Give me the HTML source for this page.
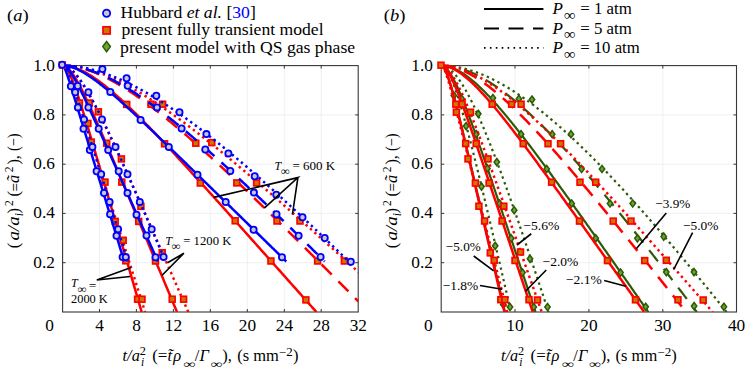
<!DOCTYPE html>
<html><head><meta charset="utf-8"><style>
html,body{margin:0;padding:0;background:#fff;width:745px;height:380px;overflow:hidden}
svg{display:block}
text{font-family:"Liberation Serif",serif;fill:#000}
</style></head><body>
<svg width="745" height="380" viewBox="0 0 745 380">
<rect width="745" height="380" fill="#fff"/>
<defs><clipPath id="ca"><rect x="62.6" y="59.6" width="295.6" height="252.4"/></clipPath><clipPath id="cb"><rect x="441.2" y="59.6" width="295.3" height="252.4"/></clipPath></defs>
<line x1="99.5" y1="65.6" x2="99.5" y2="312.0" stroke="#ececec" stroke-width="0.8"/>
<line x1="136.4" y1="65.6" x2="136.4" y2="312.0" stroke="#ececec" stroke-width="0.8"/>
<line x1="173.4" y1="65.6" x2="173.4" y2="312.0" stroke="#ececec" stroke-width="0.8"/>
<line x1="210.3" y1="65.6" x2="210.3" y2="312.0" stroke="#ececec" stroke-width="0.8"/>
<line x1="247.3" y1="65.6" x2="247.3" y2="312.0" stroke="#ececec" stroke-width="0.8"/>
<line x1="284.3" y1="65.6" x2="284.3" y2="312.0" stroke="#ececec" stroke-width="0.8"/>
<line x1="321.2" y1="65.6" x2="321.2" y2="312.0" stroke="#ececec" stroke-width="0.8"/>
<line x1="62.6" y1="262.7" x2="358.2" y2="262.7" stroke="#ececec" stroke-width="0.8"/>
<line x1="62.6" y1="213.4" x2="358.2" y2="213.4" stroke="#ececec" stroke-width="0.8"/>
<line x1="62.6" y1="164.2" x2="358.2" y2="164.2" stroke="#ececec" stroke-width="0.8"/>
<line x1="62.6" y1="114.9" x2="358.2" y2="114.9" stroke="#ececec" stroke-width="0.8"/>
<line x1="515.0" y1="65.6" x2="515.0" y2="312.0" stroke="#ececec" stroke-width="0.8"/>
<line x1="588.9" y1="65.6" x2="588.9" y2="312.0" stroke="#ececec" stroke-width="0.8"/>
<line x1="662.8" y1="65.6" x2="662.8" y2="312.0" stroke="#ececec" stroke-width="0.8"/>
<line x1="441.2" y1="262.7" x2="736.5" y2="262.7" stroke="#ececec" stroke-width="0.8"/>
<line x1="441.2" y1="213.4" x2="736.5" y2="213.4" stroke="#ececec" stroke-width="0.8"/>
<line x1="441.2" y1="164.2" x2="736.5" y2="164.2" stroke="#ececec" stroke-width="0.8"/>
<line x1="441.2" y1="114.9" x2="736.5" y2="114.9" stroke="#ececec" stroke-width="0.8"/>
<rect x="62.6" y="65.6" width="295.59999999999997" height="246.4" fill="none" stroke="#383838" stroke-width="1.1"/>
<line x1="99.5" y1="312.0" x2="99.5" y2="309.0" stroke="#383838" stroke-width="1"/>
<line x1="99.5" y1="65.6" x2="99.5" y2="68.6" stroke="#383838" stroke-width="1"/>
<line x1="136.4" y1="312.0" x2="136.4" y2="309.0" stroke="#383838" stroke-width="1"/>
<line x1="136.4" y1="65.6" x2="136.4" y2="68.6" stroke="#383838" stroke-width="1"/>
<line x1="173.4" y1="312.0" x2="173.4" y2="309.0" stroke="#383838" stroke-width="1"/>
<line x1="173.4" y1="65.6" x2="173.4" y2="68.6" stroke="#383838" stroke-width="1"/>
<line x1="210.3" y1="312.0" x2="210.3" y2="309.0" stroke="#383838" stroke-width="1"/>
<line x1="210.3" y1="65.6" x2="210.3" y2="68.6" stroke="#383838" stroke-width="1"/>
<line x1="247.3" y1="312.0" x2="247.3" y2="309.0" stroke="#383838" stroke-width="1"/>
<line x1="247.3" y1="65.6" x2="247.3" y2="68.6" stroke="#383838" stroke-width="1"/>
<line x1="284.3" y1="312.0" x2="284.3" y2="309.0" stroke="#383838" stroke-width="1"/>
<line x1="284.3" y1="65.6" x2="284.3" y2="68.6" stroke="#383838" stroke-width="1"/>
<line x1="321.2" y1="312.0" x2="321.2" y2="309.0" stroke="#383838" stroke-width="1"/>
<line x1="321.2" y1="65.6" x2="321.2" y2="68.6" stroke="#383838" stroke-width="1"/>
<line x1="62.6" y1="262.7" x2="65.6" y2="262.7" stroke="#383838" stroke-width="1"/>
<line x1="358.2" y1="262.7" x2="355.2" y2="262.7" stroke="#383838" stroke-width="1"/>
<line x1="62.6" y1="213.4" x2="65.6" y2="213.4" stroke="#383838" stroke-width="1"/>
<line x1="358.2" y1="213.4" x2="355.2" y2="213.4" stroke="#383838" stroke-width="1"/>
<line x1="62.6" y1="164.2" x2="65.6" y2="164.2" stroke="#383838" stroke-width="1"/>
<line x1="358.2" y1="164.2" x2="355.2" y2="164.2" stroke="#383838" stroke-width="1"/>
<line x1="62.6" y1="114.9" x2="65.6" y2="114.9" stroke="#383838" stroke-width="1"/>
<line x1="358.2" y1="114.9" x2="355.2" y2="114.9" stroke="#383838" stroke-width="1"/>
<rect x="441.2" y="65.6" width="295.3" height="246.4" fill="none" stroke="#383838" stroke-width="1.1"/>
<line x1="515.0" y1="312.0" x2="515.0" y2="309.0" stroke="#383838" stroke-width="1"/>
<line x1="515.0" y1="65.6" x2="515.0" y2="68.6" stroke="#383838" stroke-width="1"/>
<line x1="588.9" y1="312.0" x2="588.9" y2="309.0" stroke="#383838" stroke-width="1"/>
<line x1="588.9" y1="65.6" x2="588.9" y2="68.6" stroke="#383838" stroke-width="1"/>
<line x1="662.8" y1="312.0" x2="662.8" y2="309.0" stroke="#383838" stroke-width="1"/>
<line x1="662.8" y1="65.6" x2="662.8" y2="68.6" stroke="#383838" stroke-width="1"/>
<line x1="441.2" y1="262.7" x2="444.2" y2="262.7" stroke="#383838" stroke-width="1"/>
<line x1="736.5" y1="262.7" x2="733.5" y2="262.7" stroke="#383838" stroke-width="1"/>
<line x1="441.2" y1="213.4" x2="444.2" y2="213.4" stroke="#383838" stroke-width="1"/>
<line x1="736.5" y1="213.4" x2="733.5" y2="213.4" stroke="#383838" stroke-width="1"/>
<line x1="441.2" y1="164.2" x2="444.2" y2="164.2" stroke="#383838" stroke-width="1"/>
<line x1="736.5" y1="164.2" x2="733.5" y2="164.2" stroke="#383838" stroke-width="1"/>
<line x1="441.2" y1="114.9" x2="444.2" y2="114.9" stroke="#383838" stroke-width="1"/>
<line x1="736.5" y1="114.9" x2="733.5" y2="114.9" stroke="#383838" stroke-width="1"/>
<g clip-path="url(#ca)">
<path d="M62.50,65.60 L63.68,65.89 L64.86,66.72 L66.04,68.00 L67.23,69.68 L68.41,71.70 L69.59,74.00 L70.77,76.55 L71.95,79.32 L73.13,82.28 L74.31,85.39 L75.49,88.64 L76.68,92.00 L77.86,95.47 L79.04,99.02 L80.22,102.64 L81.40,106.33 L82.58,110.08 L83.76,113.87 L84.95,117.70 L86.13,121.57 L87.31,125.46 L88.49,129.39 L89.67,133.33 L90.85,137.30 L92.03,141.28 L93.21,145.27 L94.40,149.28 L95.58,153.29 L96.76,157.32 L97.94,161.35 L99.12,165.39 L100.30,169.44 L101.48,173.49 L102.67,177.54 L103.85,181.60 L105.03,185.66 L106.21,189.72 L107.39,193.79 L108.57,197.86 L109.75,201.93 L110.93,206.00 L112.12,210.07 L113.30,214.14 L114.48,218.22 L115.66,222.29 L116.84,226.37 L118.02,230.44 L119.20,234.52 L120.39,238.60 L121.57,242.67 L122.75,246.75 L123.93,250.83 L125.11,254.91 L126.29,258.99 L127.47,263.07 L128.66,267.15 L129.84,271.22 L131.02,275.30 L132.20,279.38 L133.38,283.46 L134.56,287.54 L135.74,291.62 L136.92,295.70 L138.11,299.78 L139.29,303.86 L140.47,307.94 L141.65,312.02" fill="none" stroke="#ff0000" stroke-width="2.5" stroke-linejoin="round"/>
<path d="M62.50,65.60 L63.68,66.02 L64.86,67.16 L66.04,68.86 L67.22,71.01 L68.40,73.50 L69.58,76.26 L70.76,79.23 L71.94,82.37 L73.12,85.64 L74.30,89.01 L75.48,92.46 L76.66,95.97 L77.84,99.53 L79.02,103.13 L80.20,106.76 L81.38,110.42 L82.56,114.09 L83.74,117.78 L84.92,121.47 L86.10,125.18 L87.28,128.89 L88.46,132.61 L89.64,136.34 L90.82,140.06 L92.00,143.79 L93.18,147.52 L94.36,151.26 L95.54,154.99 L96.72,158.73 L97.90,162.46 L99.08,166.20 L100.26,169.94 L101.44,173.67 L102.62,177.41 L103.80,181.15 L104.98,184.89 L106.16,188.63 L107.34,192.36 L108.52,196.10 L109.70,199.84 L110.88,203.58 L112.06,207.32 L113.24,211.06 L114.42,214.80 L115.60,218.53 L116.78,222.27 L117.96,226.01 L119.14,229.75 L120.32,233.49 L121.50,237.23 L122.68,240.97 L123.86,244.71 L125.04,248.44 L126.22,252.18 L127.40,255.92 L128.58,259.66 L129.76,263.40 L130.94,267.14 L132.12,270.88 L133.30,274.62 L134.48,278.35 L135.66,282.09 L136.85,285.83 L138.03,289.57 L139.21,293.31 L140.39,297.05 L141.57,300.79 L142.75,304.53 L143.93,308.27 L145.11,312.00" fill="none" stroke="#ff0000" stroke-width="2.5" stroke-dasharray="2.4 3.5" stroke-linejoin="round"/>
<path d="M62.50,65.60 L63.67,65.74 L64.84,66.14 L66.01,66.78 L67.17,67.64 L68.34,68.68 L69.51,69.90 L70.68,71.27 L71.85,72.79 L73.02,74.43 L74.19,76.18 L75.36,78.04 L76.52,79.99 L77.69,82.02 L78.86,84.12 L80.03,86.30 L81.20,88.53 L82.37,90.82 L83.54,93.16 L84.70,95.55 L85.87,97.97 L87.04,100.43 L88.21,102.92 L89.38,105.44 L90.55,107.99 L91.72,110.56 L92.89,113.15 L94.05,115.76 L95.22,118.39 L96.39,121.04 L97.56,123.70 L98.73,126.37 L99.90,129.05 L101.07,131.74 L102.23,134.45 L103.40,137.16 L104.57,139.88 L105.74,142.60 L106.91,145.33 L108.08,148.07 L109.25,150.81 L110.42,153.56 L111.58,156.31 L112.75,159.06 L113.92,161.82 L115.09,164.58 L116.26,167.34 L117.43,170.10 L118.60,172.87 L119.76,175.64 L120.93,178.41 L122.10,181.18 L123.27,183.95 L124.44,186.73 L125.61,189.51 L126.78,192.28 L127.95,195.06 L129.11,197.84 L130.28,200.62 L131.45,203.40 L132.62,206.18 L133.79,208.96 L134.96,211.74 L136.13,214.52 L137.29,217.31 L138.46,220.09 L139.63,222.87 L140.80,225.66 L141.97,228.44 L143.14,231.23 L144.31,234.01 L145.48,236.79 L146.64,239.58 L147.81,242.36 L148.98,245.15 L150.15,247.93 L151.32,250.72 L152.49,253.50 L153.66,256.29 L154.83,259.08 L155.99,261.86 L157.16,264.65 L158.33,267.43 L159.50,270.22 L160.67,273.00 L161.84,275.79 L163.01,278.58 L164.17,281.36 L165.34,284.15 L166.51,286.93 L167.68,289.72 L168.85,292.51 L170.02,295.29 L171.19,298.08 L172.36,300.86 L173.52,303.65 L174.69,306.44 L175.86,309.22 L177.03,312.01" fill="none" stroke="#ff0000" stroke-width="2.5" stroke-linejoin="round"/>
<path d="M62.50,65.60 L63.68,65.69 L64.85,65.93 L66.03,66.34 L67.20,66.88 L68.38,67.57 L69.55,68.37 L70.73,69.30 L71.90,70.34 L73.08,71.48 L74.26,72.72 L75.43,74.05 L76.61,75.46 L77.78,76.96 L78.96,78.53 L80.13,80.17 L81.31,81.88 L82.48,83.65 L83.66,85.47 L84.84,87.35 L86.01,89.29 L87.19,91.27 L88.36,93.29 L89.54,95.36 L90.71,97.46 L91.89,99.60 L93.06,101.78 L94.24,103.99 L95.42,106.23 L96.59,108.50 L97.77,110.79 L98.94,113.11 L100.12,115.45 L101.29,117.81 L102.47,120.20 L103.64,122.60 L104.82,125.02 L106.00,127.46 L107.17,129.92 L108.35,132.38 L109.52,134.87 L110.70,137.36 L111.87,139.87 L113.05,142.39 L114.22,144.92 L115.40,147.46 L116.58,150.01 L117.75,152.57 L118.93,155.13 L120.10,157.71 L121.28,160.29 L122.45,162.88 L123.63,165.47 L124.80,168.07 L125.98,170.68 L127.16,173.29 L128.33,175.91 L129.51,178.53 L130.68,181.15 L131.86,183.78 L133.03,186.41 L134.21,189.05 L135.38,191.69 L136.56,194.33 L137.74,196.98 L138.91,199.63 L140.09,202.28 L141.26,204.93 L142.44,207.59 L143.61,210.25 L144.79,212.91 L145.96,215.57 L147.14,218.23 L148.32,220.89 L149.49,223.56 L150.67,226.23 L151.84,228.90 L153.02,231.57 L154.19,234.24 L155.37,236.91 L156.54,239.59 L157.72,242.26 L158.90,244.94 L160.07,247.61 L161.25,250.29 L162.42,252.97 L163.60,255.65 L164.77,258.33 L165.95,261.01 L167.12,263.69 L168.30,266.37 L169.48,269.05 L170.65,271.73 L171.83,274.42 L173.00,277.10 L174.18,279.78 L175.35,282.46 L176.53,285.15 L177.70,287.83 L178.88,290.52 L180.06,293.20 L181.23,295.89 L182.41,298.57 L183.58,301.26 L184.76,303.94 L185.93,306.63 L187.11,309.32 L188.28,312.00" fill="none" stroke="#ff0000" stroke-width="2.5" stroke-dasharray="2.4 3.5" stroke-linejoin="round"/>
<path d="M62.50,65.60 L63.66,65.62 L64.83,65.69 L65.99,65.79 L67.16,65.94 L68.32,66.12 L69.49,66.34 L70.65,66.59 L71.82,66.88 L72.98,67.21 L74.15,67.57 L75.31,67.95 L76.48,68.37 L77.64,68.82 L78.81,69.30 L79.97,69.80 L81.14,70.33 L82.30,70.88 L83.47,71.46 L84.63,72.07 L85.79,72.70 L86.96,73.35 L88.12,74.02 L89.29,74.71 L90.45,75.42 L91.62,76.16 L92.78,76.91 L93.95,77.68 L95.11,78.47 L96.28,79.27 L97.44,80.09 L98.61,80.93 L99.77,81.78 L100.94,82.65 L102.10,83.53 L103.27,84.43 L104.43,85.34 L105.60,86.26 L106.76,87.20 L107.93,88.15 L109.09,89.11 L110.25,90.08 L111.42,91.06 L112.58,92.06 L113.75,93.06 L114.91,94.08 L116.08,95.10 L117.24,96.13 L118.41,97.18 L119.57,98.23 L120.74,99.29 L121.90,100.35 L123.07,101.43 L124.23,102.51 L125.40,103.60 L126.56,104.70 L127.73,105.81 L128.89,106.92 L130.06,108.04 L131.22,109.16 L132.38,110.29 L133.55,111.43 L134.71,112.57 L135.88,113.72 L137.04,114.87 L138.21,116.03 L139.37,117.20 L140.54,118.36 L141.70,119.54 L142.87,120.71 L144.03,121.90 L145.20,123.08 L146.36,124.27 L147.53,125.47 L148.69,126.66 L149.86,127.87 L151.02,129.07 L152.19,130.28 L153.35,131.49 L154.52,132.71 L155.68,133.92 L156.84,135.14 L158.01,136.37 L159.17,137.60 L160.34,138.83 L161.50,140.06 L162.67,141.29 L163.83,142.53 L165.00,143.77 L166.16,145.01 L167.33,146.26 L168.49,147.50 L169.66,148.75 L170.82,150.00 L171.99,151.25 L173.15,152.51 L174.32,153.76 L175.48,155.02 L176.65,156.28 L177.81,157.54 L178.97,158.80 L180.14,160.07 L181.30,161.33 L182.47,162.60 L183.63,163.87 L184.80,165.14 L185.96,166.41 L187.13,167.68 L188.29,168.96 L189.46,170.23 L190.62,171.51 L191.79,172.79 L192.95,174.07 L194.12,175.35 L195.28,176.63 L196.45,177.91 L197.61,179.19 L198.78,180.47 L199.94,181.76 L201.11,183.04 L202.27,184.33 L203.43,185.61 L204.60,186.90 L205.76,188.19 L206.93,189.48 L208.09,190.77 L209.26,192.06 L210.42,193.35 L211.59,194.64 L212.75,195.93 L213.92,197.22 L215.08,198.52 L216.25,199.81 L217.41,201.10 L218.58,202.40 L219.74,203.69 L220.91,204.99 L222.07,206.29 L223.24,207.58 L224.40,208.88 L225.56,210.18 L226.73,211.48 L227.89,212.77 L229.06,214.07 L230.22,215.37 L231.39,216.67 L232.55,217.97 L233.72,219.27 L234.88,220.57 L236.05,221.87 L237.21,223.17 L238.38,224.47 L239.54,225.78 L240.71,227.08 L241.87,228.38 L243.04,229.68 L244.20,230.98 L245.37,232.29 L246.53,233.59 L247.70,234.89 L248.86,236.20 L250.02,237.50 L251.19,238.80 L252.35,240.11 L253.52,241.41 L254.68,242.72 L255.85,244.02 L257.01,245.33 L258.18,246.63 L259.34,247.94 L260.51,249.24 L261.67,250.55 L262.84,251.85 L264.00,253.16 L265.17,254.46 L266.33,255.77 L267.50,257.08 L268.66,258.38 L269.83,259.69 L270.99,261.00 L272.15,262.30 L273.32,263.61 L274.48,264.92 L275.65,266.22 L276.81,267.53 L277.98,268.84 L279.14,270.14 L280.31,271.45 L281.47,272.76 L282.64,274.07 L283.80,275.37 L284.97,276.68 L286.13,277.99 L287.30,279.30 L288.46,280.60 L289.63,281.91 L290.79,283.22 L291.96,284.53 L293.12,285.84 L294.28,287.14 L295.45,288.45 L296.61,289.76 L297.78,291.07 L298.94,292.38 L300.11,293.68 L301.27,294.99 L302.44,296.30 L303.60,297.61 L304.77,298.92 L305.93,300.23 L307.10,301.54 L308.26,302.84 L309.43,304.15 L310.59,305.46 L311.76,306.77 L312.92,308.08 L314.09,309.39 L315.25,310.70 L316.42,312.01" fill="none" stroke="#ff0000" stroke-width="2.5" stroke-linejoin="round"/>
<path d="M62.50,65.60 L63.66,65.61 L64.82,65.64 L65.98,65.69 L67.14,65.76 L68.30,65.86 L69.46,65.97 L70.62,66.10 L71.78,66.24 L72.95,66.41 L74.11,66.59 L75.27,66.80 L76.43,67.02 L77.59,67.25 L78.75,67.50 L79.91,67.77 L81.07,68.06 L82.23,68.36 L83.39,68.68 L84.55,69.01 L85.71,69.36 L86.87,69.72 L88.03,70.10 L89.19,70.49 L90.35,70.89 L91.52,71.31 L92.68,71.74 L93.84,72.19 L95.00,72.64 L96.16,73.12 L97.32,73.60 L98.48,74.10 L99.64,74.60 L100.80,75.12 L101.96,75.66 L103.12,76.20 L104.28,76.75 L105.44,77.32 L106.60,77.90 L107.76,78.48 L108.92,79.08 L110.08,79.69 L111.25,80.31 L112.41,80.93 L113.57,81.57 L114.73,82.22 L115.89,82.88 L117.05,83.54 L118.21,84.22 L119.37,84.90 L120.53,85.60 L121.69,86.30 L122.85,87.01 L124.01,87.73 L125.17,88.45 L126.33,89.19 L127.49,89.93 L128.65,90.68 L129.81,91.44 L130.98,92.21 L132.14,92.98 L133.30,93.76 L134.46,94.55 L135.62,95.34 L136.78,96.14 L137.94,96.95 L139.10,97.77 L140.26,98.59 L141.42,99.41 L142.58,100.25 L143.74,101.09 L144.90,101.93 L146.06,102.79 L147.22,103.64 L148.38,104.51 L149.55,105.38 L150.71,106.25 L151.87,107.13 L153.03,108.02 L154.19,108.91 L155.35,109.80 L156.51,110.70 L157.67,111.61 L158.83,112.52 L159.99,113.43 L161.15,114.36 L162.31,115.28 L163.47,116.21 L164.63,117.14 L165.79,118.08 L166.95,119.02 L168.11,119.97 L169.28,120.92 L170.44,121.88 L171.60,122.84 L172.76,123.80 L173.92,124.77 L175.08,125.74 L176.24,126.71 L177.40,127.69 L178.56,128.67 L179.72,129.66 L180.88,130.64 L182.04,131.64 L183.20,132.63 L184.36,133.63 L185.52,134.63 L186.68,135.64 L187.84,136.65 L189.01,137.66 L190.17,138.67 L191.33,139.69 L192.49,140.71 L193.65,141.73 L194.81,142.76 L195.97,143.79 L197.13,144.82 L198.29,145.85 L199.45,146.89 L200.61,147.93 L201.77,148.97 L202.93,150.02 L204.09,151.06 L205.25,152.11 L206.41,153.16 L207.58,154.22 L208.74,155.27 L209.90,156.33 L211.06,157.39 L212.22,158.46 L213.38,159.52 L214.54,160.59 L215.70,161.66 L216.86,162.73 L218.02,163.80 L219.18,164.87 L220.34,165.95 L221.50,167.03 L222.66,168.11 L223.82,169.19 L224.98,170.28 L226.14,171.36 L227.31,172.45 L228.47,173.54 L229.63,174.63 L230.79,175.72 L231.95,176.81 L233.11,177.91 L234.27,179.01 L235.43,180.11 L236.59,181.21 L237.75,182.31 L238.91,183.41 L240.07,184.51 L241.23,185.62 L242.39,186.73 L243.55,187.84 L244.71,188.95 L245.87,190.06 L247.04,191.17 L248.20,192.28 L249.36,193.40 L250.52,194.51 L251.68,195.63 L252.84,196.75 L254.00,197.87 L255.16,198.99 L256.32,200.11 L257.48,201.23 L258.64,202.35 L259.80,203.48 L260.96,204.60 L262.12,205.73 L263.28,206.86 L264.44,207.99 L265.61,209.12 L266.77,210.25 L267.93,211.38 L269.09,212.51 L270.25,213.64 L271.41,214.78 L272.57,215.91 L273.73,217.05 L274.89,218.19 L276.05,219.32 L277.21,220.46 L278.37,221.60 L279.53,222.74 L280.69,223.88 L281.85,225.02 L283.01,226.16 L284.17,227.31 L285.34,228.45 L286.50,229.59 L287.66,230.74 L288.82,231.88 L289.98,233.03 L291.14,234.18 L292.30,235.32 L293.46,236.47 L294.62,237.62 L295.78,238.77 L296.94,239.92 L298.10,241.07 L299.26,242.22 L300.42,243.37 L301.58,244.52 L302.74,245.67 L303.90,246.83 L305.07,247.98 L306.23,249.14 L307.39,250.29 L308.55,251.44 L309.71,252.60 L310.87,253.76 L312.03,254.91 L313.19,256.07 L314.35,257.23 L315.51,258.38 L316.67,259.54 L317.83,260.70 L318.99,261.86 L320.15,263.02 L321.31,264.18 L322.47,265.34 L323.63,266.50 L324.80,267.66 L325.96,268.82 L327.12,269.98 L328.28,271.15 L329.44,272.31 L330.60,273.47 L331.76,274.63 L332.92,275.80 L334.08,276.96 L335.24,278.13 L336.40,279.29 L337.56,280.45 L338.72,281.62 L339.88,282.79 L341.04,283.95 L342.20,285.12 L343.37,286.28 L344.53,287.45 L345.69,288.62 L346.85,289.78 L348.01,290.95 L349.17,292.12 L350.33,293.29 L351.49,294.45 L352.65,295.62 L353.81,296.79 L354.97,297.96 L356.13,299.13 L357.29,300.30 L358.45,301.47 L359.61,302.64 L360.77,303.81 L361.93,304.98 L363.10,306.15 L364.26,307.32 L365.42,308.49 L366.58,309.66 L367.74,310.83 L368.90,312.00" fill="none" stroke="#ff0000" stroke-width="2.5" stroke-dasharray="14.2 9.5" stroke-linejoin="round"/>
<path d="M62.50,65.60 L63.66,65.61 L64.82,65.63 L65.98,65.67 L67.14,65.73 L68.30,65.80 L69.45,65.89 L70.61,65.99 L71.77,66.11 L72.93,66.25 L74.09,66.39 L75.25,66.55 L76.41,66.73 L77.57,66.92 L78.73,67.12 L79.89,67.34 L81.05,67.57 L82.21,67.81 L83.36,68.07 L84.52,68.34 L85.68,68.62 L86.84,68.91 L88.00,69.21 L89.16,69.53 L90.32,69.86 L91.48,70.20 L92.64,70.55 L93.80,70.91 L94.96,71.29 L96.12,71.67 L97.27,72.07 L98.43,72.47 L99.59,72.89 L100.75,73.31 L101.91,73.75 L103.07,74.19 L104.23,74.65 L105.39,75.11 L106.55,75.59 L107.71,76.07 L108.87,76.56 L110.03,77.07 L111.18,77.58 L112.34,78.09 L113.50,78.62 L114.66,79.16 L115.82,79.70 L116.98,80.25 L118.14,80.82 L119.30,81.38 L120.46,81.96 L121.62,82.54 L122.78,83.14 L123.94,83.73 L125.09,84.34 L126.25,84.95 L127.41,85.58 L128.57,86.20 L129.73,86.84 L130.89,87.48 L132.05,88.13 L133.21,88.78 L134.37,89.44 L135.53,90.11 L136.69,90.78 L137.85,91.46 L139.00,92.15 L140.16,92.84 L141.32,93.54 L142.48,94.24 L143.64,94.95 L144.80,95.67 L145.96,96.39 L147.12,97.11 L148.28,97.84 L149.44,98.58 L150.60,99.32 L151.76,100.07 L152.91,100.82 L154.07,101.58 L155.23,102.34 L156.39,103.11 L157.55,103.88 L158.71,104.65 L159.87,105.43 L161.03,106.22 L162.19,107.01 L163.35,107.80 L164.51,108.60 L165.67,109.40 L166.82,110.21 L167.98,111.02 L169.14,111.84 L170.30,112.66 L171.46,113.48 L172.62,114.31 L173.78,115.14 L174.94,115.97 L176.10,116.81 L177.26,117.65 L178.42,118.50 L179.58,119.35 L180.73,120.20 L181.89,121.05 L183.05,121.91 L184.21,122.78 L185.37,123.64 L186.53,124.51 L187.69,125.38 L188.85,126.26 L190.01,127.14 L191.17,128.02 L192.33,128.90 L193.49,129.79 L194.64,130.68 L195.80,131.57 L196.96,132.47 L198.12,133.37 L199.28,134.27 L200.44,135.17 L201.60,136.08 L202.76,136.99 L203.92,137.90 L205.08,138.81 L206.24,139.73 L207.40,140.65 L208.55,141.57 L209.71,142.50 L210.87,143.42 L212.03,144.35 L213.19,145.28 L214.35,146.21 L215.51,147.15 L216.67,148.09 L217.83,149.03 L218.99,149.97 L220.15,150.91 L221.31,151.86 L222.46,152.80 L223.62,153.75 L224.78,154.71 L225.94,155.66 L227.10,156.61 L228.26,157.57 L229.42,158.53 L230.58,159.49 L231.74,160.45 L232.90,161.42 L234.06,162.38 L235.22,163.35 L236.37,164.32 L237.53,165.29 L238.69,166.26 L239.85,167.24 L241.01,168.21 L242.17,169.19 L243.33,170.17 L244.49,171.15 L245.65,172.13 L246.81,173.11 L247.97,174.10 L249.13,175.08 L250.28,176.07 L251.44,177.06 L252.60,178.05 L253.76,179.04 L254.92,180.03 L256.08,181.03 L257.24,182.02 L258.40,183.02 L259.56,184.02 L260.72,185.01 L261.88,186.01 L263.04,187.02 L264.19,188.02 L265.35,189.02 L266.51,190.03 L267.67,191.03 L268.83,192.04 L269.99,193.04 L271.15,194.05 L272.31,195.06 L273.47,196.07 L274.63,197.08 L275.79,198.10 L276.95,199.11 L278.10,200.13 L279.26,201.14 L280.42,202.16 L281.58,203.17 L282.74,204.19 L283.90,205.21 L285.06,206.23 L286.22,207.25 L287.38,208.27 L288.54,209.30 L289.70,210.32 L290.86,211.34 L292.01,212.37 L293.17,213.39 L294.33,214.42 L295.49,215.45 L296.65,216.47 L297.81,217.50 L298.97,218.53 L300.13,219.56 L301.29,220.59 L302.45,221.62 L303.61,222.66 L304.77,223.69 L305.92,224.72 L307.08,225.75 L308.24,226.79 L309.40,227.82 L310.56,228.86 L311.72,229.90 L312.88,230.93 L314.04,231.97 L315.20,233.01 L316.36,234.05 L317.52,235.09 L318.67,236.13 L319.83,237.17 L320.99,238.21 L322.15,239.25 L323.31,240.29 L324.47,241.33 L325.63,242.38 L326.79,243.42 L327.95,244.46 L329.11,245.51 L330.27,246.55 L331.43,247.60 L332.58,248.64 L333.74,249.69 L334.90,250.74 L336.06,251.78 L337.22,252.83 L338.38,253.88 L339.54,254.93 L340.70,255.98 L341.86,257.03 L343.02,258.08 L344.18,259.12 L345.34,260.18 L346.49,261.23 L347.65,262.28 L348.81,263.33 L349.97,264.38 L351.13,265.43 L352.29,266.48 L353.45,267.54 L354.61,268.59 L355.77,269.64 L356.93,270.70 L358.09,271.75 L359.25,272.81 L360.40,273.86 L361.56,274.92 L362.72,275.97 L363.88,277.03 L365.04,278.08 L366.20,279.14 L367.36,280.20 L368.52,281.25 L369.68,282.31 L370.84,283.37 L372.00,284.43 L373.16,285.48 L374.31,286.54 L375.47,287.60 L376.63,288.66 L377.79,289.72 L378.95,290.78 L380.11,291.84 L381.27,292.90 L382.43,293.96 L383.59,295.02 L384.75,296.08 L385.91,297.14 L387.07,298.20 L388.22,299.26 L389.38,300.32 L390.54,301.38 L391.70,302.44 L392.86,303.51 L394.02,304.57 L395.18,305.63 L396.34,306.69 L397.50,307.76 L398.66,308.82 L399.82,309.88 L400.98,310.94 L402.13,312.01" fill="none" stroke="#ff0000" stroke-width="2.5" stroke-dasharray="2.4 3.5" stroke-linejoin="round"/>
<rect x="76.5" y="100.1" width="5.8" height="5.8" fill="#c87800" stroke="#ff0000" stroke-width="1.7"/>
<rect x="88.4" y="139.2" width="5.8" height="5.8" fill="#c87800" stroke="#ff0000" stroke-width="1.7"/>
<rect x="112.3" y="218.5" width="5.8" height="5.8" fill="#c87800" stroke="#ff0000" stroke-width="1.7"/>
<rect x="122.9" y="257.9" width="5.8" height="5.8" fill="#c87800" stroke="#ff0000" stroke-width="1.7"/>
<rect x="134.7" y="296.3" width="5.8" height="5.8" fill="#c87800" stroke="#ff0000" stroke-width="1.7"/>
<rect x="85.0" y="120.5" width="5.8" height="5.8" fill="#c87800" stroke="#ff0000" stroke-width="1.7"/>
<rect x="102.1" y="179.2" width="5.8" height="5.8" fill="#c87800" stroke="#ff0000" stroke-width="1.7"/>
<rect x="120.3" y="237.4" width="5.8" height="5.8" fill="#c87800" stroke="#ff0000" stroke-width="1.7"/>
<rect x="139.1" y="296.3" width="5.8" height="5.8" fill="#c87800" stroke="#ff0000" stroke-width="1.7"/>
<rect x="86.3" y="100.1" width="5.8" height="5.8" fill="#c87800" stroke="#ff0000" stroke-width="1.7"/>
<rect x="103.8" y="140.3" width="5.8" height="5.8" fill="#c87800" stroke="#ff0000" stroke-width="1.7"/>
<rect x="118.9" y="179.2" width="5.8" height="5.8" fill="#c87800" stroke="#ff0000" stroke-width="1.7"/>
<rect x="135.8" y="218.5" width="5.8" height="5.8" fill="#c87800" stroke="#ff0000" stroke-width="1.7"/>
<rect x="152.6" y="258.1" width="5.8" height="5.8" fill="#c87800" stroke="#ff0000" stroke-width="1.7"/>
<rect x="169.3" y="296.3" width="5.8" height="5.8" fill="#c87800" stroke="#ff0000" stroke-width="1.7"/>
<rect x="95.5" y="108.9" width="5.8" height="5.8" fill="#c87800" stroke="#ff0000" stroke-width="1.7"/>
<rect x="118.5" y="156.0" width="5.8" height="5.8" fill="#c87800" stroke="#ff0000" stroke-width="1.7"/>
<rect x="138.0" y="203.5" width="5.8" height="5.8" fill="#c87800" stroke="#ff0000" stroke-width="1.7"/>
<rect x="159.3" y="249.8" width="5.8" height="5.8" fill="#c87800" stroke="#ff0000" stroke-width="1.7"/>
<rect x="180.7" y="296.3" width="5.8" height="5.8" fill="#c87800" stroke="#ff0000" stroke-width="1.7"/>
<rect x="123.8" y="101.5" width="5.8" height="5.8" fill="#c87800" stroke="#ff0000" stroke-width="1.7"/>
<rect x="161.7" y="140.9" width="5.8" height="5.8" fill="#c87800" stroke="#ff0000" stroke-width="1.7"/>
<rect x="197.4" y="180.1" width="5.8" height="5.8" fill="#c87800" stroke="#ff0000" stroke-width="1.7"/>
<rect x="232.3" y="217.9" width="5.8" height="5.8" fill="#c87800" stroke="#ff0000" stroke-width="1.7"/>
<rect x="268.0" y="258.1" width="5.8" height="5.8" fill="#c87800" stroke="#ff0000" stroke-width="1.7"/>
<rect x="303.0" y="297.0" width="5.8" height="5.8" fill="#c87800" stroke="#ff0000" stroke-width="1.7"/>
<rect x="148.1" y="101.3" width="5.8" height="5.8" fill="#c87800" stroke="#ff0000" stroke-width="1.7"/>
<rect x="192.9" y="140.3" width="5.8" height="5.8" fill="#c87800" stroke="#ff0000" stroke-width="1.7"/>
<rect x="233.9" y="180.0" width="5.8" height="5.8" fill="#c87800" stroke="#ff0000" stroke-width="1.7"/>
<rect x="274.1" y="218.1" width="5.8" height="5.8" fill="#c87800" stroke="#ff0000" stroke-width="1.7"/>
<rect x="314.7" y="258.1" width="5.8" height="5.8" fill="#c87800" stroke="#ff0000" stroke-width="1.7"/>
<rect x="159.7" y="101.3" width="5.8" height="5.8" fill="#c87800" stroke="#ff0000" stroke-width="1.7"/>
<rect x="208.9" y="139.7" width="5.8" height="5.8" fill="#c87800" stroke="#ff0000" stroke-width="1.7"/>
<rect x="253.7" y="180.0" width="5.8" height="5.8" fill="#c87800" stroke="#ff0000" stroke-width="1.7"/>
<rect x="297.1" y="218.1" width="5.8" height="5.8" fill="#c87800" stroke="#ff0000" stroke-width="1.7"/>
<rect x="341.5" y="258.1" width="5.8" height="5.8" fill="#c87800" stroke="#ff0000" stroke-width="1.7"/>
<path d="M62.50,65.60 L63.69,66.50 L64.88,68.68 L66.06,71.59 L67.25,74.93 L68.44,78.50 L69.63,82.22 L70.81,86.01 L72.00,89.85 L73.19,93.72 L74.38,97.60 L75.56,101.49 L76.75,105.39 L77.94,109.29 L79.13,113.19 L80.32,117.09 L81.50,120.99 L82.69,124.90 L83.88,128.80 L85.07,132.70 L86.25,136.60 L87.44,140.51 L88.63,144.41 L89.82,148.31 L91.00,152.22 L92.19,156.12 L93.38,160.02 L94.57,163.93 L95.76,167.83 L96.94,171.73 L98.13,175.64 L99.32,179.54 L100.51,183.44 L101.69,187.35 L102.88,191.25 L104.07,195.15 L105.26,199.06 L106.44,202.96 L107.63,206.86 L108.82,210.76 L110.01,214.67 L111.20,218.57 L112.38,222.47 L113.57,226.38 L114.76,230.28 L115.95,234.18 L117.13,238.09 L118.32,241.99 L119.51,245.89 L120.70,249.80 L121.88,253.70 L123.07,257.60 L124.26,261.51" fill="none" stroke="#0000ff" stroke-width="2.5" stroke-linejoin="round"/>
<path d="M62.50,65.60 L63.68,66.01 L64.87,67.13 L66.05,68.81 L67.24,70.94 L68.42,73.43 L69.61,76.20 L70.79,79.20 L71.98,82.37 L73.16,85.69 L74.34,89.12 L75.53,92.63 L76.71,96.23 L77.90,99.87 L79.08,103.57 L80.27,107.30 L81.45,111.05 L82.63,114.83 L83.82,118.63 L85.00,122.44 L86.19,126.27 L87.37,130.10 L88.56,133.94 L89.74,137.79 L90.93,141.64 L92.11,145.49 L93.29,149.35 L94.48,153.21 L95.66,157.07 L96.85,160.94 L98.03,164.80 L99.22,168.66 L100.40,172.53 L101.59,176.40 L102.77,180.26 L103.95,184.13 L105.14,188.00 L106.32,191.87 L107.51,195.73 L108.69,199.60 L109.88,203.47 L111.06,207.34 L112.24,211.21 L113.43,215.07 L114.61,218.94 L115.80,222.81 L116.98,226.68 L118.17,230.55 L119.35,234.42 L120.54,238.28 L121.72,242.15 L122.90,246.02 L124.09,249.89 L125.27,253.76 L126.46,257.63 L127.64,261.50" fill="none" stroke="#0000ff" stroke-width="2.5" stroke-dasharray="2.4 3.5" stroke-linejoin="round"/>
<path d="M62.50,65.60 L63.68,65.79 L64.86,66.31 L66.03,67.13 L67.21,68.19 L68.39,69.48 L69.57,70.95 L70.74,72.58 L71.92,74.35 L73.10,76.24 L74.28,78.24 L75.46,80.32 L76.63,82.48 L77.81,84.70 L78.99,86.99 L80.17,89.32 L81.35,91.69 L82.52,94.10 L83.70,96.54 L84.88,99.01 L86.06,101.50 L87.23,104.01 L88.41,106.54 L89.59,109.09 L90.77,111.65 L91.95,114.21 L93.12,116.79 L94.30,119.38 L95.48,121.97 L96.66,124.57 L97.83,127.18 L99.01,129.79 L100.19,132.40 L101.37,135.02 L102.55,137.64 L103.72,140.26 L104.90,142.88 L106.08,145.51 L107.26,148.14 L108.43,150.77 L109.61,153.40 L110.79,156.03 L111.97,158.66 L113.15,161.29 L114.32,163.93 L115.50,166.56 L116.68,169.20 L117.86,171.83 L119.04,174.47 L120.21,177.10 L121.39,179.74 L122.57,182.38 L123.75,185.01 L124.92,187.65 L126.10,190.29 L127.28,192.92 L128.46,195.56 L129.64,198.20 L130.81,200.84 L131.99,203.47 L133.17,206.11 L134.35,208.75 L135.52,211.39 L136.70,214.03 L137.88,216.66 L139.06,219.30 L140.24,221.94 L141.41,224.58 L142.59,227.21 L143.77,229.85 L144.95,232.49 L146.12,235.13 L147.30,237.77 L148.48,240.40 L149.66,243.04 L150.84,245.68 L152.01,248.32 L153.19,250.96 L154.37,253.59 L155.55,256.23 L156.73,258.87 L157.90,261.51" fill="none" stroke="#0000ff" stroke-width="2.5" stroke-linejoin="round"/>
<path d="M62.50,65.60 L63.67,65.68 L64.84,65.92 L66.01,66.31 L67.19,66.83 L68.36,67.49 L69.53,68.27 L70.70,69.16 L71.87,70.17 L73.04,71.28 L74.21,72.48 L75.39,73.77 L76.56,75.15 L77.73,76.61 L78.90,78.14 L80.07,79.75 L81.24,81.42 L82.42,83.16 L83.59,84.95 L84.76,86.80 L85.93,88.70 L87.10,90.66 L88.27,92.65 L89.44,94.69 L90.62,96.78 L91.79,98.90 L92.96,101.05 L94.13,103.24 L95.30,105.47 L96.47,107.72 L97.64,110.00 L98.82,112.31 L99.99,114.64 L101.16,117.00 L102.33,119.38 L103.50,121.78 L104.67,124.20 L105.84,126.64 L107.02,129.09 L108.19,131.56 L109.36,134.05 L110.53,136.55 L111.70,139.07 L112.87,141.60 L114.05,144.14 L115.22,146.69 L116.39,149.25 L117.56,151.82 L118.73,154.40 L119.90,156.99 L121.07,159.59 L122.25,162.20 L123.42,164.81 L124.59,167.43 L125.76,170.06 L126.93,172.70 L128.10,175.34 L129.27,177.98 L130.45,180.63 L131.62,183.29 L132.79,185.95 L133.96,188.61 L135.13,191.28 L136.30,193.95 L137.48,196.62 L138.65,199.30 L139.82,201.98 L140.99,204.67 L142.16,207.36 L143.33,210.05 L144.50,212.74 L145.68,215.43 L146.85,218.13 L148.02,220.83 L149.19,223.53 L150.36,226.23 L151.53,228.94 L152.70,231.64 L153.88,234.35 L155.05,237.06 L156.22,239.77 L157.39,242.48 L158.56,245.19 L159.73,247.91 L160.90,250.62 L162.08,253.34 L163.25,256.05 L164.42,258.77 L165.59,261.49" fill="none" stroke="#0000ff" stroke-width="2.5" stroke-dasharray="2.4 3.5" stroke-linejoin="round"/>
<path d="M62.50,65.60 L63.67,65.63 L64.83,65.71 L66.00,65.84 L67.16,66.02 L68.33,66.25 L69.49,66.52 L70.66,66.83 L71.82,67.18 L72.99,67.58 L74.16,68.00 L75.32,68.46 L76.49,68.96 L77.65,69.48 L78.82,70.04 L79.98,70.62 L81.15,71.23 L82.31,71.86 L83.48,72.52 L84.65,73.20 L85.81,73.91 L86.98,74.63 L88.14,75.38 L89.31,76.14 L90.47,76.93 L91.64,77.73 L92.80,78.54 L93.97,79.38 L95.14,80.22 L96.30,81.08 L97.47,81.96 L98.63,82.84 L99.80,83.74 L100.96,84.65 L102.13,85.58 L103.29,86.51 L104.46,87.45 L105.62,88.40 L106.79,89.37 L107.96,90.34 L109.12,91.31 L110.29,92.30 L111.45,93.29 L112.62,94.29 L113.78,95.30 L114.95,96.31 L116.11,97.33 L117.28,98.36 L118.45,99.39 L119.61,100.43 L120.78,101.47 L121.94,102.51 L123.11,103.56 L124.27,104.62 L125.44,105.68 L126.60,106.74 L127.77,107.81 L128.94,108.88 L130.10,109.95 L131.27,111.03 L132.43,112.11 L133.60,113.19 L134.76,114.28 L135.93,115.37 L137.09,116.46 L138.26,117.55 L139.43,118.65 L140.59,119.74 L141.76,120.84 L142.92,121.95 L144.09,123.05 L145.25,124.16 L146.42,125.26 L147.58,126.37 L148.75,127.48 L149.92,128.59 L151.08,129.71 L152.25,130.82 L153.41,131.94 L154.58,133.05 L155.74,134.17 L156.91,135.29 L158.07,136.41 L159.24,137.53 L160.41,138.65 L161.57,139.78 L162.74,140.90 L163.90,142.03 L165.07,143.15 L166.23,144.28 L167.40,145.41 L168.56,146.53 L169.73,147.66 L170.90,148.79 L172.06,149.92 L173.23,151.05 L174.39,152.18 L175.56,153.31 L176.72,154.44 L177.89,155.57 L179.05,156.71 L180.22,157.84 L181.39,158.97 L182.55,160.11 L183.72,161.24 L184.88,162.37 L186.05,163.51 L187.21,164.64 L188.38,165.78 L189.54,166.91 L190.71,168.05 L191.87,169.18 L193.04,170.32 L194.21,171.46 L195.37,172.59 L196.54,173.73 L197.70,174.87 L198.87,176.00 L200.03,177.14 L201.20,178.28 L202.36,179.42 L203.53,180.55 L204.70,181.69 L205.86,182.83 L207.03,183.97 L208.19,185.11 L209.36,186.25 L210.52,187.38 L211.69,188.52 L212.85,189.66 L214.02,190.80 L215.19,191.94 L216.35,193.08 L217.52,194.22 L218.68,195.36 L219.85,196.50 L221.01,197.63 L222.18,198.77 L223.34,199.91 L224.51,201.05 L225.68,202.19 L226.84,203.33 L228.01,204.47 L229.17,205.61 L230.34,206.75 L231.50,207.89 L232.67,209.03 L233.83,210.17 L235.00,211.31 L236.17,212.45 L237.33,213.59 L238.50,214.73 L239.66,215.87 L240.83,217.01 L241.99,218.15 L243.16,219.29 L244.32,220.43 L245.49,221.57 L246.66,222.71 L247.82,223.85 L248.99,224.99 L250.15,226.13 L251.32,227.27 L252.48,228.41 L253.65,229.55 L254.81,230.70 L255.98,231.84 L257.15,232.98 L258.31,234.12 L259.48,235.26 L260.64,236.40 L261.81,237.54 L262.97,238.68 L264.14,239.82 L265.30,240.96 L266.47,242.10 L267.63,243.24 L268.80,244.38 L269.97,245.52 L271.13,246.66 L272.30,247.80 L273.46,248.94 L274.63,250.08 L275.79,251.22 L276.96,252.37 L278.12,253.51 L279.29,254.65 L280.46,255.79 L281.62,256.93 L282.79,258.07 L283.95,259.21 L285.12,260.35 L286.28,261.49" fill="none" stroke="#0000ff" stroke-width="2.5" stroke-linejoin="round"/>
<path d="M62.50,65.60 L63.66,65.61 L64.82,65.64 L65.98,65.68 L67.14,65.75 L68.30,65.83 L69.46,65.93 L70.62,66.05 L71.78,66.19 L72.94,66.34 L74.10,66.51 L75.26,66.69 L76.42,66.89 L77.58,67.11 L78.74,67.34 L79.90,67.59 L81.06,67.85 L82.22,68.13 L83.38,68.42 L84.54,68.73 L85.70,69.05 L86.86,69.38 L88.02,69.73 L89.18,70.09 L90.34,70.47 L91.50,70.85 L92.67,71.25 L93.83,71.67 L94.99,72.09 L96.15,72.53 L97.31,72.98 L98.47,73.44 L99.63,73.91 L100.79,74.40 L101.95,74.89 L103.11,75.40 L104.27,75.92 L105.43,76.44 L106.59,76.98 L107.75,77.53 L108.91,78.09 L110.07,78.66 L111.23,79.24 L112.39,79.82 L113.55,80.42 L114.71,81.03 L115.87,81.65 L117.03,82.27 L118.19,82.91 L119.35,83.55 L120.51,84.20 L121.67,84.86 L122.83,85.53 L123.99,86.21 L125.15,86.89 L126.31,87.59 L127.47,88.29 L128.63,89.00 L129.79,89.71 L130.95,90.44 L132.11,91.17 L133.27,91.90 L134.43,92.65 L135.59,93.40 L136.75,94.16 L137.91,94.93 L139.07,95.70 L140.23,96.48 L141.39,97.27 L142.55,98.06 L143.71,98.86 L144.87,99.66 L146.03,100.47 L147.19,101.29 L148.35,102.11 L149.51,102.94 L150.67,103.77 L151.83,104.61 L153.00,105.46 L154.16,106.31 L155.32,107.16 L156.48,108.02 L157.64,108.89 L158.80,109.76 L159.96,110.64 L161.12,111.52 L162.28,112.40 L163.44,113.29 L164.60,114.19 L165.76,115.09 L166.92,115.99 L168.08,116.90 L169.24,117.82 L170.40,118.73 L171.56,119.65 L172.72,120.58 L173.88,121.51 L175.04,122.44 L176.20,123.38 L177.36,124.32 L178.52,125.27 L179.68,126.22 L180.84,127.17 L182.00,128.13 L183.16,129.09 L184.32,130.05 L185.48,131.02 L186.64,131.99 L187.80,132.97 L188.96,133.94 L190.12,134.92 L191.28,135.91 L192.44,136.90 L193.60,137.89 L194.76,138.88 L195.92,139.88 L197.08,140.87 L198.24,141.88 L199.40,142.88 L200.56,143.89 L201.72,144.90 L202.88,145.91 L204.04,146.93 L205.20,147.95 L206.36,148.97 L207.52,149.99 L208.68,151.02 L209.84,152.05 L211.00,153.08 L212.16,154.11 L213.33,155.15 L214.49,156.19 L215.65,157.23 L216.81,158.27 L217.97,159.32 L219.13,160.36 L220.29,161.41 L221.45,162.47 L222.61,163.52 L223.77,164.58 L224.93,165.63 L226.09,166.69 L227.25,167.75 L228.41,168.82 L229.57,169.88 L230.73,170.95 L231.89,172.02 L233.05,173.09 L234.21,174.16 L235.37,175.24 L236.53,176.31 L237.69,177.39 L238.85,178.47 L240.01,179.55 L241.17,180.63 L242.33,181.72 L243.49,182.80 L244.65,183.89 L245.81,184.98 L246.97,186.07 L248.13,187.16 L249.29,188.25 L250.45,189.35 L251.61,190.44 L252.77,191.54 L253.93,192.64 L255.09,193.74 L256.25,194.84 L257.41,195.94 L258.57,197.05 L259.73,198.15 L260.89,199.26 L262.05,200.37 L263.21,201.47 L264.37,202.58 L265.53,203.69 L266.69,204.81 L267.85,205.92 L269.01,207.03 L270.17,208.15 L271.33,209.27 L272.49,210.38 L273.66,211.50 L274.82,212.62 L275.98,213.74 L277.14,214.86 L278.30,215.98 L279.46,217.11 L280.62,218.23 L281.78,219.36 L282.94,220.48 L284.10,221.61 L285.26,222.74 L286.42,223.86 L287.58,224.99 L288.74,226.12 L289.90,227.25 L291.06,228.39 L292.22,229.52 L293.38,230.65 L294.54,231.79 L295.70,232.92 L296.86,234.06 L298.02,235.19 L299.18,236.33 L300.34,237.47 L301.50,238.60 L302.66,239.74 L303.82,240.88 L304.98,242.02 L306.14,243.16 L307.30,244.30 L308.46,245.45 L309.62,246.59 L310.78,247.73 L311.94,248.88 L313.10,250.02 L314.26,251.17 L315.42,252.31 L316.58,253.46 L317.74,254.61 L318.90,255.75 L320.06,256.90 L321.22,258.05 L322.38,259.20 L323.54,260.35 L324.70,261.50" fill="none" stroke="#0000ff" stroke-width="2.5" stroke-dasharray="14.2 9.5" stroke-linejoin="round"/>
<path d="M62.50,65.60 L63.66,65.61 L64.83,65.63 L65.99,65.66 L67.15,65.71 L68.32,65.76 L69.48,65.84 L70.64,65.92 L71.81,66.02 L72.97,66.12 L74.13,66.24 L75.30,66.38 L76.46,66.52 L77.62,66.68 L78.79,66.84 L79.95,67.02 L81.12,67.21 L82.28,67.42 L83.44,67.63 L84.61,67.85 L85.77,68.09 L86.93,68.33 L88.10,68.59 L89.26,68.85 L90.42,69.13 L91.59,69.42 L92.75,69.71 L93.91,70.02 L95.08,70.34 L96.24,70.66 L97.40,71.00 L98.57,71.35 L99.73,71.70 L100.89,72.07 L102.06,72.44 L103.22,72.83 L104.38,73.22 L105.55,73.62 L106.71,74.03 L107.87,74.45 L109.04,74.88 L110.20,75.32 L111.36,75.76 L112.53,76.21 L113.69,76.68 L114.86,77.15 L116.02,77.62 L117.18,78.11 L118.35,78.61 L119.51,79.11 L120.67,79.62 L121.84,80.14 L123.00,80.66 L124.16,81.19 L125.33,81.73 L126.49,82.28 L127.65,82.84 L128.82,83.40 L129.98,83.97 L131.14,84.55 L132.31,85.13 L133.47,85.72 L134.63,86.32 L135.80,86.92 L136.96,87.53 L138.12,88.15 L139.29,88.77 L140.45,89.40 L141.61,90.04 L142.78,90.68 L143.94,91.33 L145.11,91.99 L146.27,92.65 L147.43,93.32 L148.60,93.99 L149.76,94.67 L150.92,95.36 L152.09,96.05 L153.25,96.74 L154.41,97.45 L155.58,98.15 L156.74,98.87 L157.90,99.59 L159.07,100.31 L160.23,101.04 L161.39,101.78 L162.56,102.52 L163.72,103.26 L164.88,104.02 L166.05,104.77 L167.21,105.53 L168.37,106.30 L169.54,107.07 L170.70,107.85 L171.86,108.63 L173.03,109.41 L174.19,110.20 L175.35,111.00 L176.52,111.80 L177.68,112.60 L178.85,113.41 L180.01,114.22 L181.17,115.04 L182.34,115.86 L183.50,116.69 L184.66,117.52 L185.83,118.35 L186.99,119.19 L188.15,120.03 L189.32,120.88 L190.48,121.73 L191.64,122.59 L192.81,123.44 L193.97,124.31 L195.13,125.17 L196.30,126.04 L197.46,126.92 L198.62,127.80 L199.79,128.68 L200.95,129.56 L202.11,130.45 L203.28,131.34 L204.44,132.24 L205.60,133.14 L206.77,134.04 L207.93,134.95 L209.09,135.86 L210.26,136.77 L211.42,137.69 L212.59,138.61 L213.75,139.53 L214.91,140.46 L216.08,141.39 L217.24,142.32 L218.40,143.26 L219.57,144.19 L220.73,145.14 L221.89,146.08 L223.06,147.03 L224.22,147.98 L225.38,148.93 L226.55,149.89 L227.71,150.85 L228.87,151.81 L230.04,152.77 L231.20,153.74 L232.36,154.71 L233.53,155.68 L234.69,156.66 L235.85,157.64 L237.02,158.62 L238.18,159.60 L239.34,160.59 L240.51,161.58 L241.67,162.57 L242.83,163.56 L244.00,164.56 L245.16,165.56 L246.33,166.56 L247.49,167.56 L248.65,168.56 L249.82,169.57 L250.98,170.58 L252.14,171.59 L253.31,172.61 L254.47,173.63 L255.63,174.64 L256.80,175.66 L257.96,176.69 L259.12,177.71 L260.29,178.74 L261.45,179.77 L262.61,180.80 L263.78,181.83 L264.94,182.87 L266.10,183.91 L267.27,184.95 L268.43,185.99 L269.59,187.03 L270.76,188.08 L271.92,189.12 L273.08,190.17 L274.25,191.22 L275.41,192.27 L276.58,193.33 L277.74,194.39 L278.90,195.44 L280.07,196.50 L281.23,197.56 L282.39,198.63 L283.56,199.69 L284.72,200.76 L285.88,201.83 L287.05,202.89 L288.21,203.97 L289.37,205.04 L290.54,206.11 L291.70,207.19 L292.86,208.27 L294.03,209.34 L295.19,210.42 L296.35,211.51 L297.52,212.59 L298.68,213.67 L299.84,214.76 L301.01,215.85 L302.17,216.94 L303.33,218.03 L304.50,219.12 L305.66,220.21 L306.82,221.31 L307.99,222.40 L309.15,223.50 L310.32,224.60 L311.48,225.70 L312.64,226.80 L313.81,227.90 L314.97,229.01 L316.13,230.11 L317.30,231.22 L318.46,232.32 L319.62,233.43 L320.79,234.54 L321.95,235.65 L323.11,236.76 L324.28,237.88 L325.44,238.99 L326.60,240.11 L327.77,241.22 L328.93,242.34 L330.09,243.46 L331.26,244.58 L332.42,245.70 L333.58,246.82 L334.75,247.94 L335.91,249.07 L337.07,250.19 L338.24,251.32 L339.40,252.44 L340.56,253.57 L341.73,254.70 L342.89,255.83 L344.06,256.96 L345.22,258.09 L346.38,259.23 L347.55,260.36 L348.71,261.49" fill="none" stroke="#0000ff" stroke-width="2.5" stroke-dasharray="2.4 3.5" stroke-linejoin="round"/>
<circle cx="70.9" cy="86.3" r="3.1" fill="#c8c8c8" stroke="#0000ff" stroke-width="1.8"/>
<circle cx="77.9" cy="107.4" r="3.1" fill="#c8c8c8" stroke="#0000ff" stroke-width="1.8"/>
<circle cx="83.5" cy="128.8" r="3.1" fill="#c8c8c8" stroke="#0000ff" stroke-width="1.8"/>
<circle cx="89.8" cy="150.1" r="3.1" fill="#c8c8c8" stroke="#0000ff" stroke-width="1.8"/>
<circle cx="96.6" cy="171.2" r="3.1" fill="#c8c8c8" stroke="#0000ff" stroke-width="1.8"/>
<circle cx="104.0" cy="193.0" r="3.1" fill="#c8c8c8" stroke="#0000ff" stroke-width="1.8"/>
<circle cx="110.1" cy="214.2" r="3.1" fill="#c8c8c8" stroke="#0000ff" stroke-width="1.8"/>
<circle cx="116.5" cy="235.7" r="3.1" fill="#c8c8c8" stroke="#0000ff" stroke-width="1.8"/>
<circle cx="122.6" cy="257.1" r="3.1" fill="#c8c8c8" stroke="#0000ff" stroke-width="1.8"/>
<circle cx="75.2" cy="92.2" r="3.1" fill="#c8c8c8" stroke="#0000ff" stroke-width="1.8"/>
<circle cx="84.0" cy="119.4" r="3.1" fill="#c8c8c8" stroke="#0000ff" stroke-width="1.8"/>
<circle cx="92.4" cy="146.9" r="3.1" fill="#c8c8c8" stroke="#0000ff" stroke-width="1.8"/>
<circle cx="101.2" cy="174.3" r="3.1" fill="#c8c8c8" stroke="#0000ff" stroke-width="1.8"/>
<circle cx="109.6" cy="201.9" r="3.1" fill="#c8c8c8" stroke="#0000ff" stroke-width="1.8"/>
<circle cx="118.1" cy="229.2" r="3.1" fill="#c8c8c8" stroke="#0000ff" stroke-width="1.8"/>
<circle cx="125.8" cy="257.1" r="3.1" fill="#c8c8c8" stroke="#0000ff" stroke-width="1.8"/>
<circle cx="77.7" cy="86.0" r="3.1" fill="#c8c8c8" stroke="#0000ff" stroke-width="1.8"/>
<circle cx="88.4" cy="107.4" r="3.1" fill="#c8c8c8" stroke="#0000ff" stroke-width="1.8"/>
<circle cx="98.7" cy="128.8" r="3.1" fill="#c8c8c8" stroke="#0000ff" stroke-width="1.8"/>
<circle cx="108.2" cy="150.1" r="3.1" fill="#c8c8c8" stroke="#0000ff" stroke-width="1.8"/>
<circle cx="118.7" cy="171.2" r="3.1" fill="#c8c8c8" stroke="#0000ff" stroke-width="1.8"/>
<circle cx="127.5" cy="193.0" r="3.1" fill="#c8c8c8" stroke="#0000ff" stroke-width="1.8"/>
<circle cx="136.5" cy="214.7" r="3.1" fill="#c8c8c8" stroke="#0000ff" stroke-width="1.8"/>
<circle cx="146.5" cy="235.5" r="3.1" fill="#c8c8c8" stroke="#0000ff" stroke-width="1.8"/>
<circle cx="155.5" cy="257.2" r="3.1" fill="#c8c8c8" stroke="#0000ff" stroke-width="1.8"/>
<circle cx="88.4" cy="92.2" r="3.1" fill="#c8c8c8" stroke="#0000ff" stroke-width="1.8"/>
<circle cx="102.0" cy="119.4" r="3.1" fill="#c8c8c8" stroke="#0000ff" stroke-width="1.8"/>
<circle cx="115.5" cy="146.9" r="3.1" fill="#c8c8c8" stroke="#0000ff" stroke-width="1.8"/>
<circle cx="127.5" cy="174.3" r="3.1" fill="#c8c8c8" stroke="#0000ff" stroke-width="1.8"/>
<circle cx="139.8" cy="201.9" r="3.1" fill="#c8c8c8" stroke="#0000ff" stroke-width="1.8"/>
<circle cx="151.7" cy="229.2" r="3.1" fill="#c8c8c8" stroke="#0000ff" stroke-width="1.8"/>
<circle cx="163.6" cy="256.9" r="3.1" fill="#c8c8c8" stroke="#0000ff" stroke-width="1.8"/>
<circle cx="110.3" cy="91.9" r="3.1" fill="#c8c8c8" stroke="#0000ff" stroke-width="1.8"/>
<circle cx="140.6" cy="120.0" r="3.1" fill="#c8c8c8" stroke="#0000ff" stroke-width="1.8"/>
<circle cx="168.8" cy="146.9" r="3.1" fill="#c8c8c8" stroke="#0000ff" stroke-width="1.8"/>
<circle cx="197.5" cy="174.7" r="3.1" fill="#c8c8c8" stroke="#0000ff" stroke-width="1.8"/>
<circle cx="225.7" cy="202.0" r="3.1" fill="#c8c8c8" stroke="#0000ff" stroke-width="1.8"/>
<circle cx="253.6" cy="229.7" r="3.1" fill="#c8c8c8" stroke="#0000ff" stroke-width="1.8"/>
<circle cx="282.0" cy="257.2" r="3.1" fill="#c8c8c8" stroke="#0000ff" stroke-width="1.8"/>
<circle cx="127.7" cy="85.8" r="3.1" fill="#c8c8c8" stroke="#0000ff" stroke-width="1.8"/>
<circle cx="157.0" cy="107.4" r="3.1" fill="#c8c8c8" stroke="#0000ff" stroke-width="1.8"/>
<circle cx="181.6" cy="128.4" r="3.1" fill="#c8c8c8" stroke="#0000ff" stroke-width="1.8"/>
<circle cx="205.3" cy="149.5" r="3.1" fill="#c8c8c8" stroke="#0000ff" stroke-width="1.8"/>
<circle cx="230.3" cy="171.0" r="3.1" fill="#c8c8c8" stroke="#0000ff" stroke-width="1.8"/>
<circle cx="253.9" cy="192.6" r="3.1" fill="#c8c8c8" stroke="#0000ff" stroke-width="1.8"/>
<circle cx="276.5" cy="214.2" r="3.1" fill="#c8c8c8" stroke="#0000ff" stroke-width="1.8"/>
<circle cx="298.6" cy="235.7" r="3.1" fill="#c8c8c8" stroke="#0000ff" stroke-width="1.8"/>
<circle cx="320.6" cy="257.0" r="3.1" fill="#c8c8c8" stroke="#0000ff" stroke-width="1.8"/>
<circle cx="102.4" cy="69.1" r="3.1" fill="#c8c8c8" stroke="#0000ff" stroke-width="1.8"/>
<circle cx="126.6" cy="78.3" r="3.1" fill="#c8c8c8" stroke="#0000ff" stroke-width="1.8"/>
<circle cx="156.3" cy="95.8" r="3.1" fill="#c8c8c8" stroke="#0000ff" stroke-width="1.8"/>
<circle cx="179.5" cy="112.2" r="3.1" fill="#c8c8c8" stroke="#0000ff" stroke-width="1.8"/>
<circle cx="206.4" cy="134.1" r="3.1" fill="#c8c8c8" stroke="#0000ff" stroke-width="1.8"/>
<circle cx="228.4" cy="153.4" r="3.1" fill="#c8c8c8" stroke="#0000ff" stroke-width="1.8"/>
<circle cx="254.7" cy="176.3" r="3.1" fill="#c8c8c8" stroke="#0000ff" stroke-width="1.8"/>
<circle cx="276.3" cy="194.7" r="3.1" fill="#c8c8c8" stroke="#0000ff" stroke-width="1.8"/>
<circle cx="302.5" cy="217.3" r="3.1" fill="#c8c8c8" stroke="#0000ff" stroke-width="1.8"/>
<circle cx="324.7" cy="238.0" r="3.1" fill="#c8c8c8" stroke="#0000ff" stroke-width="1.8"/>
<circle cx="350.8" cy="261.7" r="3.1" fill="#c8c8c8" stroke="#0000ff" stroke-width="1.8"/>
</g>
<rect x="59.4" y="62.1" width="5.8" height="5.8" fill="#c87800" stroke="#ff0000" stroke-width="1.7"/>
<circle cx="62.1" cy="64.8" r="3.1" fill="#c8c8c8" stroke="#0000ff" stroke-width="1.8"/>
<g clip-path="url(#cb)">
<path d="M441.20,65.60 L442.14,65.88 L443.08,66.66 L444.01,67.89 L444.95,69.49 L445.89,71.42 L446.83,73.64 L447.77,76.10 L448.70,78.77 L449.64,81.63 L450.58,84.65 L451.52,87.80 L452.46,91.07 L453.40,94.45 L454.33,97.91 L455.27,101.45 L456.21,105.06 L457.15,108.72 L458.09,112.44 L459.02,116.19 L459.96,119.99 L460.90,123.81 L461.84,127.67 L462.78,131.55 L463.71,135.44 L464.65,139.36 L465.59,143.29 L466.53,147.24 L467.47,151.20 L468.41,155.17 L469.34,159.14 L470.28,163.13 L471.22,167.12 L472.16,171.11 L473.10,175.12 L474.03,179.12 L474.97,183.13 L475.91,187.14 L476.85,191.16 L477.79,195.18 L478.72,199.19 L479.66,203.22 L480.60,207.24 L481.54,211.26 L482.48,215.29 L483.42,219.31 L484.35,223.34 L485.29,227.37 L486.23,231.40 L487.17,235.43 L488.11,239.46 L489.04,243.49 L489.98,247.52 L490.92,251.55 L491.86,255.58 L492.80,259.61 L493.73,263.64 L494.67,267.67 L495.61,271.70 L496.55,275.73 L497.49,279.77 L498.42,283.80 L499.36,287.83 L500.30,291.86 L501.24,295.89 L502.18,299.93 L503.12,303.96 L504.05,307.99 L504.99,312.02" fill="none" stroke="#2c5a06" stroke-width="2.2" stroke-linejoin="round"/>
<path d="M441.20,65.60 L442.14,65.74 L443.09,66.16 L444.03,66.83 L444.97,67.74 L445.91,68.87 L446.86,70.20 L447.80,71.72 L448.74,73.42 L449.69,75.29 L450.63,77.31 L451.57,79.48 L452.52,81.78 L453.46,84.20 L454.40,86.74 L455.34,89.39 L456.29,92.13 L457.23,94.97 L458.17,97.90 L459.12,100.91 L460.06,103.99 L461.00,107.15 L461.95,110.37 L462.89,113.65 L463.83,116.98 L464.77,120.37 L465.72,123.81 L466.66,127.30 L467.60,130.82 L468.55,134.39 L469.49,137.99 L470.43,141.63 L471.38,145.30 L472.32,149.00 L473.26,152.73 L474.20,156.48 L475.15,160.26 L476.09,164.06 L477.03,167.88 L477.98,171.72 L478.92,175.58 L479.86,179.45 L480.81,183.34 L481.75,187.25 L482.69,191.16 L483.63,195.09 L484.58,199.04 L485.52,202.99 L486.46,206.95 L487.41,210.93 L488.35,214.91 L489.29,218.90 L490.24,222.90 L491.18,226.90 L492.12,230.91 L493.06,234.93 L494.01,238.95 L494.95,242.98 L495.89,247.02 L496.84,251.06 L497.78,255.10 L498.72,259.15 L499.67,263.20 L500.61,267.25 L501.55,271.31 L502.49,275.37 L503.44,279.43 L504.38,283.50 L505.32,287.57 L506.27,291.64 L507.21,295.71 L508.15,299.78 L509.09,303.86 L510.04,307.94 L510.98,312.02" fill="none" stroke="#2c5a06" stroke-width="2.2" stroke-dasharray="2.4 3.5" stroke-linejoin="round"/>
<path d="M441.20,65.60 L442.13,65.70 L443.07,66.00 L444.00,66.49 L444.94,67.14 L445.87,67.95 L446.80,68.91 L447.74,70.00 L448.67,71.21 L449.60,72.54 L450.54,73.98 L451.47,75.52 L452.41,77.15 L453.34,78.87 L454.27,80.67 L455.21,82.54 L456.14,84.47 L457.08,86.48 L458.01,88.54 L458.94,90.65 L459.88,92.82 L460.81,95.03 L461.75,97.28 L462.68,99.58 L463.61,101.91 L464.55,104.28 L465.48,106.68 L466.41,109.11 L467.35,111.56 L468.28,114.04 L469.22,116.55 L470.15,119.08 L471.08,121.63 L472.02,124.19 L472.95,126.78 L473.89,129.38 L474.82,131.99 L475.75,134.62 L476.69,137.26 L477.62,139.92 L478.55,142.58 L479.49,145.26 L480.42,147.95 L481.36,150.64 L482.29,153.34 L483.22,156.05 L484.16,158.77 L485.09,161.49 L486.03,164.22 L486.96,166.96 L487.89,169.70 L488.83,172.44 L489.76,175.19 L490.70,177.95 L491.63,180.70 L492.56,183.46 L493.50,186.23 L494.43,189.00 L495.36,191.77 L496.30,194.54 L497.23,197.32 L498.17,200.09 L499.10,202.87 L500.03,205.65 L500.97,208.44 L501.90,211.22 L502.84,214.01 L503.77,216.80 L504.70,219.59 L505.64,222.38 L506.57,225.17 L507.51,227.96 L508.44,230.76 L509.37,233.55 L510.31,236.35 L511.24,239.15 L512.17,241.94 L513.11,244.74 L514.04,247.54 L514.98,250.34 L515.91,253.14 L516.84,255.94 L517.78,258.74 L518.71,261.54 L519.65,264.34 L520.58,267.14 L521.51,269.95 L522.45,272.75 L523.38,275.55 L524.31,278.35 L525.25,281.16 L526.18,283.96 L527.12,286.76 L528.05,289.57 L528.98,292.37 L529.92,295.18 L530.85,297.98 L531.79,300.79 L532.72,303.59 L533.65,306.40 L534.59,309.20 L535.52,312.01" fill="none" stroke="#2c5a06" stroke-width="2.2" stroke-linejoin="round"/>
<path d="M441.20,65.60 L442.13,65.65 L443.07,65.78 L444.00,66.00 L444.93,66.31 L445.87,66.70 L446.80,67.17 L447.73,67.71 L448.66,68.33 L449.60,69.02 L450.53,69.78 L451.46,70.60 L452.40,71.49 L453.33,72.45 L454.26,73.47 L455.20,74.54 L456.13,75.68 L457.06,76.87 L458.00,78.11 L458.93,79.41 L459.86,80.75 L460.79,82.15 L461.73,83.59 L462.66,85.08 L463.59,86.62 L464.53,88.19 L465.46,89.81 L466.39,91.47 L467.33,93.17 L468.26,94.91 L469.19,96.69 L470.13,98.50 L471.06,100.34 L471.99,102.22 L472.92,104.13 L473.86,106.08 L474.79,108.05 L475.72,110.06 L476.66,112.09 L477.59,114.15 L478.52,116.23 L479.46,118.35 L480.39,120.49 L481.32,122.65 L482.26,124.84 L483.19,127.05 L484.12,129.28 L485.05,131.53 L485.99,133.81 L486.92,136.10 L487.85,138.42 L488.79,140.75 L489.72,143.10 L490.65,145.47 L491.59,147.86 L492.52,150.26 L493.45,152.68 L494.39,155.12 L495.32,157.57 L496.25,160.04 L497.18,162.52 L498.12,165.01 L499.05,167.52 L499.98,170.04 L500.92,172.57 L501.85,175.12 L502.78,177.67 L503.72,180.24 L504.65,182.82 L505.58,185.41 L506.52,188.01 L507.45,190.63 L508.38,193.25 L509.31,195.88 L510.25,198.52 L511.18,201.17 L512.11,203.82 L513.05,206.49 L513.98,209.16 L514.91,211.84 L515.85,214.53 L516.78,217.23 L517.71,219.93 L518.65,222.64 L519.58,225.36 L520.51,228.08 L521.44,230.81 L522.38,233.55 L523.31,236.29 L524.24,239.04 L525.18,241.79 L526.11,244.55 L527.04,247.32 L527.98,250.09 L528.91,252.86 L529.84,255.64 L530.78,258.42 L531.71,261.21 L532.64,264.00 L533.57,266.80 L534.51,269.60 L535.44,272.40 L536.37,275.21 L537.31,278.02 L538.24,280.84 L539.17,283.65 L540.11,286.48 L541.04,289.30 L541.97,292.13 L542.91,294.96 L543.84,297.79 L544.77,300.63 L545.70,303.47 L546.64,306.31 L547.57,309.16 L548.50,312.01" fill="none" stroke="#2c5a06" stroke-width="2.2" stroke-dasharray="2.4 3.5" stroke-linejoin="round"/>
<path d="M441.20,65.60 L442.13,65.62 L443.06,65.67 L443.99,65.75 L444.91,65.87 L445.84,66.01 L446.77,66.19 L447.70,66.40 L448.63,66.63 L449.56,66.89 L450.49,67.19 L451.42,67.50 L452.34,67.85 L453.27,68.21 L454.20,68.61 L455.13,69.02 L456.06,69.46 L456.99,69.93 L457.92,70.41 L458.85,70.92 L459.77,71.45 L460.70,72.00 L461.63,72.57 L462.56,73.16 L463.49,73.76 L464.42,74.39 L465.35,75.03 L466.27,75.70 L467.20,76.38 L468.13,77.07 L469.06,77.78 L469.99,78.51 L470.92,79.26 L471.85,80.01 L472.78,80.79 L473.70,81.58 L474.63,82.38 L475.56,83.19 L476.49,84.02 L477.42,84.86 L478.35,85.72 L479.28,86.58 L480.20,87.46 L481.13,88.35 L482.06,89.25 L482.99,90.17 L483.92,91.09 L484.85,92.02 L485.78,92.97 L486.71,93.92 L487.63,94.89 L488.56,95.86 L489.49,96.84 L490.42,97.83 L491.35,98.83 L492.28,99.84 L493.21,100.86 L494.14,101.89 L495.06,102.92 L495.99,103.96 L496.92,105.01 L497.85,106.06 L498.78,107.13 L499.71,108.20 L500.64,109.27 L501.56,110.36 L502.49,111.45 L503.42,112.54 L504.35,113.65 L505.28,114.75 L506.21,115.87 L507.14,116.99 L508.07,118.11 L508.99,119.24 L509.92,120.38 L510.85,121.52 L511.78,122.67 L512.71,123.82 L513.64,124.97 L514.57,126.13 L515.50,127.30 L516.42,128.47 L517.35,129.64 L518.28,130.82 L519.21,132.00 L520.14,133.19 L521.07,134.37 L522.00,135.57 L522.92,136.76 L523.85,137.96 L524.78,139.17 L525.71,140.38 L526.64,141.59 L527.57,142.80 L528.50,144.02 L529.43,145.24 L530.35,146.46 L531.28,147.68 L532.21,148.91 L533.14,150.14 L534.07,151.38 L535.00,152.62 L535.93,153.85 L536.85,155.10 L537.78,156.34 L538.71,157.59 L539.64,158.83 L540.57,160.09 L541.50,161.34 L542.43,162.59 L543.36,163.85 L544.28,165.11 L545.21,166.37 L546.14,167.63 L547.07,168.90 L548.00,170.17 L548.93,171.44 L549.86,172.71 L550.79,173.98 L551.71,175.25 L552.64,176.53 L553.57,177.80 L554.50,179.08 L555.43,180.36 L556.36,181.64 L557.29,182.93 L558.21,184.21 L559.14,185.50 L560.07,186.78 L561.00,188.07 L561.93,189.36 L562.86,190.65 L563.79,191.94 L564.72,193.23 L565.64,194.53 L566.57,195.82 L567.50,197.12 L568.43,198.42 L569.36,199.71 L570.29,201.01 L571.22,202.31 L572.15,203.61 L573.07,204.92 L574.00,206.22 L574.93,207.52 L575.86,208.83 L576.79,210.13 L577.72,211.44 L578.65,212.74 L579.57,214.05 L580.50,215.36 L581.43,216.67 L582.36,217.98 L583.29,219.29 L584.22,220.60 L585.15,221.91 L586.08,223.22 L587.00,224.54 L587.93,225.85 L588.86,227.16 L589.79,228.48 L590.72,229.79 L591.65,231.11 L592.58,232.43 L593.50,233.74 L594.43,235.06 L595.36,236.38 L596.29,237.70 L597.22,239.02 L598.15,240.33 L599.08,241.65 L600.01,242.97 L600.93,244.30 L601.86,245.62 L602.79,246.94 L603.72,248.26 L604.65,249.58 L605.58,250.90 L606.51,252.23 L607.44,253.55 L608.36,254.87 L609.29,256.20 L610.22,257.52 L611.15,258.85 L612.08,260.17 L613.01,261.50 L613.94,262.82 L614.86,264.15 L615.79,265.47 L616.72,266.80 L617.65,268.12 L618.58,269.45 L619.51,270.78 L620.44,272.11 L621.37,273.43 L622.29,274.76 L623.22,276.09 L624.15,277.42 L625.08,278.74 L626.01,280.07 L626.94,281.40 L627.87,282.73 L628.80,284.06 L629.72,285.39 L630.65,286.72 L631.58,288.05 L632.51,289.38 L633.44,290.71 L634.37,292.04 L635.30,293.37 L636.22,294.70 L637.15,296.03 L638.08,297.36 L639.01,298.69 L639.94,300.02 L640.87,301.35 L641.80,302.69 L642.73,304.02 L643.65,305.35 L644.58,306.68 L645.51,308.01 L646.44,309.34 L647.37,310.68 L648.30,312.01" fill="none" stroke="#2c5a06" stroke-width="2.2" stroke-linejoin="round"/>
<path d="M441.20,65.60 L442.13,65.61 L443.06,65.63 L443.99,65.67 L444.92,65.72 L445.85,65.78 L446.78,65.86 L447.70,65.96 L448.63,66.06 L449.56,66.18 L450.49,66.32 L451.42,66.46 L452.35,66.62 L453.28,66.80 L454.21,66.98 L455.14,67.18 L456.07,67.39 L457.00,67.62 L457.93,67.85 L458.86,68.10 L459.78,68.36 L460.71,68.63 L461.64,68.91 L462.57,69.21 L463.50,69.52 L464.43,69.83 L465.36,70.16 L466.29,70.50 L467.22,70.85 L468.15,71.21 L469.08,71.58 L470.01,71.97 L470.94,72.36 L471.87,72.76 L472.79,73.17 L473.72,73.60 L474.65,74.03 L475.58,74.47 L476.51,74.93 L477.44,75.39 L478.37,75.86 L479.30,76.34 L480.23,76.83 L481.16,77.33 L482.09,77.84 L483.02,78.35 L483.95,78.88 L484.87,79.42 L485.80,79.96 L486.73,80.51 L487.66,81.07 L488.59,81.64 L489.52,82.22 L490.45,82.80 L491.38,83.39 L492.31,83.99 L493.24,84.60 L494.17,85.22 L495.10,85.84 L496.03,86.48 L496.95,87.12 L497.88,87.76 L498.81,88.42 L499.74,89.08 L500.67,89.75 L501.60,90.42 L502.53,91.10 L503.46,91.79 L504.39,92.49 L505.32,93.19 L506.25,93.90 L507.18,94.62 L508.11,95.34 L509.04,96.07 L509.96,96.81 L510.89,97.55 L511.82,98.29 L512.75,99.05 L513.68,99.81 L514.61,100.58 L515.54,101.35 L516.47,102.13 L517.40,102.91 L518.33,103.70 L519.26,104.49 L520.19,105.30 L521.12,106.10 L522.04,106.91 L522.97,107.73 L523.90,108.55 L524.83,109.38 L525.76,110.22 L526.69,111.05 L527.62,111.90 L528.55,112.75 L529.48,113.60 L530.41,114.46 L531.34,115.32 L532.27,116.19 L533.20,117.06 L534.12,117.94 L535.05,118.82 L535.98,119.71 L536.91,120.60 L537.84,121.50 L538.77,122.40 L539.70,123.30 L540.63,124.21 L541.56,125.12 L542.49,126.04 L543.42,126.96 L544.35,127.89 L545.28,128.82 L546.21,129.75 L547.13,130.69 L548.06,131.63 L548.99,132.58 L549.92,133.53 L550.85,134.48 L551.78,135.44 L552.71,136.40 L553.64,137.36 L554.57,138.33 L555.50,139.30 L556.43,140.28 L557.36,141.26 L558.29,142.24 L559.21,143.23 L560.14,144.22 L561.07,145.21 L562.00,146.21 L562.93,147.20 L563.86,148.21 L564.79,149.21 L565.72,150.22 L566.65,151.23 L567.58,152.25 L568.51,153.27 L569.44,154.29 L570.37,155.31 L571.29,156.34 L572.22,157.37 L573.15,158.40 L574.08,159.44 L575.01,160.48 L575.94,161.52 L576.87,162.56 L577.80,163.61 L578.73,164.66 L579.66,165.71 L580.59,166.77 L581.52,167.82 L582.45,168.88 L583.37,169.95 L584.30,171.01 L585.23,172.08 L586.16,173.15 L587.09,174.22 L588.02,175.30 L588.95,176.37 L589.88,177.45 L590.81,178.54 L591.74,179.62 L592.67,180.71 L593.60,181.80 L594.53,182.89 L595.46,183.98 L596.38,185.08 L597.31,186.17 L598.24,187.27 L599.17,188.37 L600.10,189.48 L601.03,190.58 L601.96,191.69 L602.89,192.80 L603.82,193.91 L604.75,195.03 L605.68,196.14 L606.61,197.26 L607.54,198.38 L608.46,199.50 L609.39,200.62 L610.32,201.75 L611.25,202.87 L612.18,204.00 L613.11,205.13 L614.04,206.26 L614.97,207.40 L615.90,208.53 L616.83,209.67 L617.76,210.81 L618.69,211.95 L619.62,213.09 L620.54,214.23 L621.47,215.38 L622.40,216.52 L623.33,217.67 L624.26,218.82 L625.19,219.97 L626.12,221.13 L627.05,222.28 L627.98,223.44 L628.91,224.59 L629.84,225.75 L630.77,226.91 L631.70,228.07 L632.63,229.23 L633.55,230.40 L634.48,231.56 L635.41,232.73 L636.34,233.90 L637.27,235.07 L638.20,236.24 L639.13,237.41 L640.06,238.58 L640.99,239.76 L641.92,240.93 L642.85,242.11 L643.78,243.29 L644.71,244.47 L645.63,245.65 L646.56,246.83 L647.49,248.01 L648.42,249.19 L649.35,250.38 L650.28,251.56 L651.21,252.75 L652.14,253.94 L653.07,255.13 L654.00,256.32 L654.93,257.51 L655.86,258.70 L656.79,259.89 L657.71,261.09 L658.64,262.28 L659.57,263.48 L660.50,264.68 L661.43,265.87 L662.36,267.07 L663.29,268.27 L664.22,269.47 L665.15,270.67 L666.08,271.88 L667.01,273.08 L667.94,274.29 L668.87,275.49 L669.79,276.70 L670.72,277.90 L671.65,279.11 L672.58,280.32 L673.51,281.53 L674.44,282.74 L675.37,283.95 L676.30,285.16 L677.23,286.38 L678.16,287.59 L679.09,288.80 L680.02,290.02 L680.95,291.23 L681.88,292.45 L682.80,293.67 L683.73,294.89 L684.66,296.10 L685.59,297.32 L686.52,298.54 L687.45,299.76 L688.38,300.99 L689.31,302.21 L690.24,303.43 L691.17,304.65 L692.10,305.88 L693.03,307.10 L693.96,308.33 L694.88,309.55 L695.81,310.78 L696.74,312.01" fill="none" stroke="#2c5a06" stroke-width="2.2" stroke-dasharray="14.2 9.5" stroke-linejoin="round"/>
<path d="M441.20,65.60 L442.13,65.61 L443.05,65.62 L443.98,65.65 L444.91,65.68 L445.83,65.73 L446.76,65.78 L447.69,65.85 L448.61,65.92 L449.54,66.01 L450.46,66.10 L451.39,66.20 L452.32,66.32 L453.24,66.44 L454.17,66.57 L455.10,66.71 L456.02,66.86 L456.95,67.02 L457.88,67.18 L458.80,67.36 L459.73,67.55 L460.66,67.74 L461.58,67.94 L462.51,68.15 L463.43,68.37 L464.36,68.60 L465.29,68.84 L466.21,69.08 L467.14,69.33 L468.07,69.59 L468.99,69.86 L469.92,70.14 L470.85,70.43 L471.77,70.72 L472.70,71.02 L473.63,71.33 L474.55,71.65 L475.48,71.97 L476.40,72.30 L477.33,72.64 L478.26,72.99 L479.18,73.34 L480.11,73.70 L481.04,74.07 L481.96,74.45 L482.89,74.83 L483.82,75.22 L484.74,75.62 L485.67,76.02 L486.60,76.43 L487.52,76.85 L488.45,77.28 L489.37,77.71 L490.30,78.15 L491.23,78.59 L492.15,79.05 L493.08,79.50 L494.01,79.97 L494.93,80.44 L495.86,80.92 L496.79,81.40 L497.71,81.89 L498.64,82.39 L499.57,82.89 L500.49,83.40 L501.42,83.92 L502.34,84.44 L503.27,84.97 L504.20,85.50 L505.12,86.04 L506.05,86.58 L506.98,87.13 L507.90,87.69 L508.83,88.25 L509.76,88.82 L510.68,89.39 L511.61,89.97 L512.54,90.56 L513.46,91.15 L514.39,91.74 L515.31,92.34 L516.24,92.95 L517.17,93.56 L518.09,94.18 L519.02,94.80 L519.95,95.43 L520.87,96.06 L521.80,96.70 L522.73,97.34 L523.65,97.99 L524.58,98.64 L525.51,99.30 L526.43,99.96 L527.36,100.63 L528.28,101.30 L529.21,101.98 L530.14,102.66 L531.06,103.35 L531.99,104.04 L532.92,104.74 L533.84,105.44 L534.77,106.14 L535.70,106.85 L536.62,107.56 L537.55,108.28 L538.48,109.01 L539.40,109.73 L540.33,110.46 L541.25,111.20 L542.18,111.94 L543.11,112.68 L544.03,113.43 L544.96,114.19 L545.89,114.94 L546.81,115.70 L547.74,116.47 L548.67,117.24 L549.59,118.01 L550.52,118.79 L551.45,119.57 L552.37,120.35 L553.30,121.14 L554.22,121.94 L555.15,122.73 L556.08,123.53 L557.00,124.34 L557.93,125.14 L558.86,125.96 L559.78,126.77 L560.71,127.59 L561.64,128.41 L562.56,129.24 L563.49,130.07 L564.42,130.90 L565.34,131.74 L566.27,132.58 L567.20,133.42 L568.12,134.27 L569.05,135.12 L569.97,135.97 L570.90,136.83 L571.83,137.69 L572.75,138.55 L573.68,139.42 L574.61,140.29 L575.53,141.16 L576.46,142.03 L577.39,142.91 L578.31,143.80 L579.24,144.68 L580.17,145.57 L581.09,146.46 L582.02,147.36 L582.94,148.25 L583.87,149.15 L584.80,150.06 L585.72,150.96 L586.65,151.87 L587.58,152.79 L588.50,153.70 L589.43,154.62 L590.36,155.54 L591.28,156.46 L592.21,157.39 L593.14,158.32 L594.06,159.25 L594.99,160.18 L595.91,161.12 L596.84,162.06 L597.77,163.00 L598.69,163.95 L599.62,164.89 L600.55,165.84 L601.47,166.80 L602.40,167.75 L603.33,168.71 L604.25,169.67 L605.18,170.63 L606.11,171.60 L607.03,172.56 L607.96,173.53 L608.88,174.51 L609.81,175.48 L610.74,176.46 L611.66,177.44 L612.59,178.42 L613.52,179.40 L614.44,180.39 L615.37,181.38 L616.30,182.37 L617.22,183.36 L618.15,184.35 L619.08,185.35 L620.00,186.35 L620.93,187.35 L621.85,188.35 L622.78,189.36 L623.71,190.37 L624.63,191.38 L625.56,192.39 L626.49,193.40 L627.41,194.42 L628.34,195.44 L629.27,196.46 L630.19,197.48 L631.12,198.50 L632.05,199.53 L632.97,200.56 L633.90,201.59 L634.82,202.62 L635.75,203.65 L636.68,204.69 L637.60,205.72 L638.53,206.76 L639.46,207.80 L640.38,208.85 L641.31,209.89 L642.24,210.94 L643.16,211.98 L644.09,213.03 L645.02,214.08 L645.94,215.14 L646.87,216.19 L647.79,217.25 L648.72,218.31 L649.65,219.37 L650.57,220.43 L651.50,221.49 L652.43,222.56 L653.35,223.62 L654.28,224.69 L655.21,225.76 L656.13,226.83 L657.06,227.90 L657.99,228.98 L658.91,230.05 L659.84,231.13 L660.76,232.21 L661.69,233.29 L662.62,234.37 L663.54,235.46 L664.47,236.54 L665.40,237.63 L666.32,238.72 L667.25,239.80 L668.18,240.89 L669.10,241.99 L670.03,243.08 L670.96,244.17 L671.88,245.27 L672.81,246.37 L673.73,247.47 L674.66,248.57 L675.59,249.67 L676.51,250.77 L677.44,251.88 L678.37,252.98 L679.29,254.09 L680.22,255.19 L681.15,256.30 L682.07,257.41 L683.00,258.53 L683.93,259.64 L684.85,260.75 L685.78,261.87 L686.70,262.99 L687.63,264.10 L688.56,265.22 L689.48,266.34 L690.41,267.46 L691.34,268.59 L692.26,269.71 L693.19,270.83 L694.12,271.96 L695.04,273.09 L695.97,274.21 L696.90,275.34 L697.82,276.47 L698.75,277.61 L699.68,278.74 L700.60,279.87 L701.53,281.01 L702.45,282.14 L703.38,283.28 L704.31,284.42 L705.23,285.55 L706.16,286.69 L707.09,287.83 L708.01,288.98 L708.94,290.12 L709.87,291.26 L710.79,292.41 L711.72,293.55 L712.65,294.70 L713.57,295.85 L714.50,297.00 L715.42,298.15 L716.35,299.30 L717.28,300.45 L718.20,301.60 L719.13,302.75 L720.06,303.91 L720.98,305.06 L721.91,306.22 L722.84,307.37 L723.76,308.53 L724.69,309.69 L725.62,310.85 L726.54,312.01" fill="none" stroke="#2c5a06" stroke-width="2.2" stroke-dasharray="2.4 3.5" stroke-linejoin="round"/>
<path d="M453.8,92.0 L456.5,95.6 L453.8,99.2 L451.1,95.6Z" fill="#6aa632" stroke="#2c5a06" stroke-width="1.5"/>
<path d="M503.2,300.9 L505.9,304.5 L503.2,308.1 L500.5,304.5Z" fill="#6aa632" stroke="#2c5a06" stroke-width="1.5"/>
<path d="M466.1,122.5 L468.8,126.1 L466.1,129.7 L463.4,126.1Z" fill="#6aa632" stroke="#2c5a06" stroke-width="1.5"/>
<path d="M481.5,183.0 L484.2,186.6 L481.5,190.2 L478.8,186.6Z" fill="#6aa632" stroke="#2c5a06" stroke-width="1.5"/>
<path d="M495.2,242.2 L497.9,245.8 L495.2,249.4 L492.5,245.8Z" fill="#6aa632" stroke="#2c5a06" stroke-width="1.5"/>
<path d="M510.0,303.4 L512.7,307.0 L510.0,310.6 L507.3,307.0Z" fill="#6aa632" stroke="#2c5a06" stroke-width="1.5"/>
<path d="M461.7,95.2 L464.4,98.8 L461.7,102.4 L459.0,98.8Z" fill="#6aa632" stroke="#2c5a06" stroke-width="1.5"/>
<path d="M476.3,130.5 L479.0,134.1 L476.3,137.7 L473.6,134.1Z" fill="#6aa632" stroke="#2c5a06" stroke-width="1.5"/>
<path d="M487.4,164.8 L490.1,168.4 L487.4,172.0 L484.7,168.4Z" fill="#6aa632" stroke="#2c5a06" stroke-width="1.5"/>
<path d="M499.5,199.9 L502.2,203.5 L499.5,207.1 L496.8,203.5Z" fill="#6aa632" stroke="#2c5a06" stroke-width="1.5"/>
<path d="M511.2,234.8 L513.9,238.4 L511.2,242.0 L508.5,238.4Z" fill="#6aa632" stroke="#2c5a06" stroke-width="1.5"/>
<path d="M522.5,268.9 L525.2,272.5 L522.5,276.1 L519.8,272.5Z" fill="#6aa632" stroke="#2c5a06" stroke-width="1.5"/>
<path d="M533.8,303.4 L536.5,307.0 L533.8,310.6 L531.0,307.0Z" fill="#6aa632" stroke="#2c5a06" stroke-width="1.5"/>
<path d="M478.3,110.2 L481.0,113.8 L478.3,117.4 L475.6,113.8Z" fill="#6aa632" stroke="#2c5a06" stroke-width="1.5"/>
<path d="M496.8,158.5 L499.5,162.1 L496.8,165.7 L494.1,162.1Z" fill="#6aa632" stroke="#2c5a06" stroke-width="1.5"/>
<path d="M514.2,206.6 L516.9,210.2 L514.2,213.8 L511.5,210.2Z" fill="#6aa632" stroke="#2c5a06" stroke-width="1.5"/>
<path d="M530.0,255.2 L532.7,258.8 L530.0,262.4 L527.3,258.8Z" fill="#6aa632" stroke="#2c5a06" stroke-width="1.5"/>
<path d="M547.5,303.4 L550.2,307.0 L547.5,310.6 L544.8,307.0Z" fill="#6aa632" stroke="#2c5a06" stroke-width="1.5"/>
<path d="M492.9,94.4 L495.6,98.0 L492.9,101.6 L490.2,98.0Z" fill="#6aa632" stroke="#2c5a06" stroke-width="1.5"/>
<path d="M521.1,130.6 L523.8,134.2 L521.1,137.8 L518.4,134.2Z" fill="#6aa632" stroke="#2c5a06" stroke-width="1.5"/>
<path d="M546.7,165.4 L549.4,169.0 L546.7,172.6 L544.0,169.0Z" fill="#6aa632" stroke="#2c5a06" stroke-width="1.5"/>
<path d="M571.7,199.9 L574.4,203.5 L571.7,207.1 L569.0,203.5Z" fill="#6aa632" stroke="#2c5a06" stroke-width="1.5"/>
<path d="M595.7,234.7 L598.4,238.3 L595.7,241.9 L593.0,238.3Z" fill="#6aa632" stroke="#2c5a06" stroke-width="1.5"/>
<path d="M620.5,269.0 L623.2,272.6 L620.5,276.2 L617.8,272.6Z" fill="#6aa632" stroke="#2c5a06" stroke-width="1.5"/>
<path d="M645.7,303.2 L648.4,306.8 L645.7,310.4 L643.0,306.8Z" fill="#6aa632" stroke="#2c5a06" stroke-width="1.5"/>
<path d="M518.9,95.3 L521.6,98.9 L518.9,102.5 L516.2,98.9Z" fill="#6aa632" stroke="#2c5a06" stroke-width="1.5"/>
<path d="M552.2,130.6 L554.9,134.2 L552.2,137.8 L549.5,134.2Z" fill="#6aa632" stroke="#2c5a06" stroke-width="1.5"/>
<path d="M581.6,165.4 L584.3,169.0 L581.6,172.6 L578.9,169.0Z" fill="#6aa632" stroke="#2c5a06" stroke-width="1.5"/>
<path d="M610.0,199.9 L612.7,203.5 L610.0,207.1 L607.3,203.5Z" fill="#6aa632" stroke="#2c5a06" stroke-width="1.5"/>
<path d="M637.4,234.7 L640.1,238.3 L637.4,241.9 L634.7,238.3Z" fill="#6aa632" stroke="#2c5a06" stroke-width="1.5"/>
<path d="M666.3,268.5 L669.0,272.1 L666.3,275.7 L663.6,272.1Z" fill="#6aa632" stroke="#2c5a06" stroke-width="1.5"/>
<path d="M694.1,302.5 L696.8,306.1 L694.1,309.7 L691.4,306.1Z" fill="#6aa632" stroke="#2c5a06" stroke-width="1.5"/>
<path d="M532.0,96.0 L534.7,99.6 L532.0,103.2 L529.3,99.6Z" fill="#6aa632" stroke="#2c5a06" stroke-width="1.5"/>
<path d="M571.0,130.6 L573.7,134.2 L571.0,137.8 L568.3,134.2Z" fill="#6aa632" stroke="#2c5a06" stroke-width="1.5"/>
<path d="M602.0,165.4 L604.7,169.0 L602.0,172.6 L599.3,169.0Z" fill="#6aa632" stroke="#2c5a06" stroke-width="1.5"/>
<path d="M632.7,199.9 L635.4,203.5 L632.7,207.1 L630.0,203.5Z" fill="#6aa632" stroke="#2c5a06" stroke-width="1.5"/>
<path d="M663.7,233.0 L666.4,236.6 L663.7,240.2 L661.0,236.6Z" fill="#6aa632" stroke="#2c5a06" stroke-width="1.5"/>
<path d="M694.0,268.5 L696.7,272.1 L694.0,275.7 L691.3,272.1Z" fill="#6aa632" stroke="#2c5a06" stroke-width="1.5"/>
<path d="M723.9,303.2 L726.6,306.8 L723.9,310.4 L721.2,306.8Z" fill="#6aa632" stroke="#2c5a06" stroke-width="1.5"/>
<path d="M441.20,65.60 L442.14,65.89 L443.09,66.72 L444.03,68.00 L444.98,69.68 L445.92,71.70 L446.87,74.00 L447.81,76.55 L448.75,79.32 L449.70,82.28 L450.64,85.39 L451.59,88.64 L452.53,92.00 L453.47,95.47 L454.42,99.02 L455.36,102.64 L456.31,106.33 L457.25,110.08 L458.20,113.87 L459.14,117.70 L460.08,121.57 L461.03,125.46 L461.97,129.39 L462.92,133.33 L463.86,137.30 L464.80,141.28 L465.75,145.27 L466.69,149.28 L467.64,153.29 L468.58,157.32 L469.53,161.35 L470.47,165.39 L471.41,169.44 L472.36,173.49 L473.30,177.54 L474.25,181.60 L475.19,185.66 L476.13,189.72 L477.08,193.79 L478.02,197.86 L478.97,201.93 L479.91,206.00 L480.86,210.07 L481.80,214.14 L482.74,218.22 L483.69,222.29 L484.63,226.37 L485.58,230.44 L486.52,234.52 L487.46,238.60 L488.41,242.67 L489.35,246.75 L490.30,250.83 L491.24,254.91 L492.19,258.99 L493.13,263.07 L494.07,267.15 L495.02,271.22 L495.96,275.30 L496.91,279.38 L497.85,283.46 L498.79,287.54 L499.74,291.62 L500.68,295.70 L501.63,299.78 L502.57,303.86 L503.52,307.94 L504.46,312.02" fill="none" stroke="#ff0000" stroke-width="2.5" stroke-linejoin="round"/>
<path d="M441.20,65.60 L442.14,66.02 L443.09,67.16 L444.03,68.86 L444.97,71.01 L445.92,73.50 L446.86,76.26 L447.80,79.23 L448.75,82.37 L449.69,85.64 L450.63,89.01 L451.57,92.46 L452.52,95.97 L453.46,99.53 L454.40,103.13 L455.35,106.76 L456.29,110.42 L457.23,114.09 L458.18,117.78 L459.12,121.47 L460.06,125.18 L461.01,128.89 L461.95,132.61 L462.89,136.34 L463.84,140.06 L464.78,143.79 L465.72,147.52 L466.67,151.26 L467.61,154.99 L468.55,158.73 L469.50,162.46 L470.44,166.20 L471.38,169.94 L472.32,173.67 L473.27,177.41 L474.21,181.15 L475.15,184.89 L476.10,188.63 L477.04,192.36 L477.98,196.10 L478.93,199.84 L479.87,203.58 L480.81,207.32 L481.76,211.06 L482.70,214.80 L483.64,218.53 L484.59,222.27 L485.53,226.01 L486.47,229.75 L487.42,233.49 L488.36,237.23 L489.30,240.97 L490.24,244.71 L491.19,248.44 L492.13,252.18 L493.07,255.92 L494.02,259.66 L494.96,263.40 L495.90,267.14 L496.85,270.88 L497.79,274.62 L498.73,278.35 L499.68,282.09 L500.62,285.83 L501.56,289.57 L502.51,293.31 L503.45,297.05 L504.39,300.79 L505.34,304.53 L506.28,308.27 L507.22,312.00" fill="none" stroke="#ff0000" stroke-width="2.5" stroke-dasharray="2.4 3.5" stroke-linejoin="round"/>
<path d="M441.20,65.60 L442.13,65.74 L443.07,66.14 L444.00,66.78 L444.94,67.64 L445.87,68.68 L446.80,69.90 L447.74,71.27 L448.67,72.79 L449.61,74.43 L450.54,76.18 L451.47,78.04 L452.41,79.99 L453.34,82.02 L454.28,84.12 L455.21,86.30 L456.14,88.53 L457.08,90.82 L458.01,93.16 L458.95,95.55 L459.88,97.97 L460.82,100.43 L461.75,102.92 L462.68,105.44 L463.62,107.99 L464.55,110.56 L465.49,113.15 L466.42,115.76 L467.35,118.39 L468.29,121.04 L469.22,123.70 L470.16,126.37 L471.09,129.05 L472.02,131.74 L472.96,134.45 L473.89,137.16 L474.83,139.88 L475.76,142.60 L476.69,145.33 L477.63,148.07 L478.56,150.81 L479.50,153.56 L480.43,156.31 L481.36,159.06 L482.30,161.82 L483.23,164.58 L484.17,167.34 L485.10,170.10 L486.03,172.87 L486.97,175.64 L487.90,178.41 L488.84,181.18 L489.77,183.95 L490.70,186.73 L491.64,189.51 L492.57,192.28 L493.51,195.06 L494.44,197.84 L495.38,200.62 L496.31,203.40 L497.24,206.18 L498.18,208.96 L499.11,211.74 L500.05,214.52 L500.98,217.31 L501.91,220.09 L502.85,222.87 L503.78,225.66 L504.72,228.44 L505.65,231.23 L506.58,234.01 L507.52,236.79 L508.45,239.58 L509.39,242.36 L510.32,245.15 L511.25,247.93 L512.19,250.72 L513.12,253.50 L514.06,256.29 L514.99,259.08 L515.92,261.86 L516.86,264.65 L517.79,267.43 L518.73,270.22 L519.66,273.00 L520.59,275.79 L521.53,278.58 L522.46,281.36 L523.40,284.15 L524.33,286.93 L525.26,289.72 L526.20,292.51 L527.13,295.29 L528.07,298.08 L529.00,300.86 L529.93,303.65 L530.87,306.44 L531.80,309.22 L532.74,312.01" fill="none" stroke="#ff0000" stroke-width="2.5" stroke-linejoin="round"/>
<path d="M441.20,65.60 L442.14,65.69 L443.08,65.93 L444.02,66.34 L444.96,66.88 L445.90,67.57 L446.84,68.37 L447.78,69.30 L448.72,70.34 L449.66,71.48 L450.60,72.72 L451.54,74.05 L452.47,75.46 L453.41,76.96 L454.35,78.53 L455.29,80.17 L456.23,81.88 L457.17,83.65 L458.11,85.47 L459.05,87.35 L459.99,89.29 L460.93,91.27 L461.87,93.29 L462.81,95.36 L463.75,97.46 L464.69,99.60 L465.63,101.78 L466.57,103.99 L467.51,106.23 L468.45,108.50 L469.39,110.79 L470.33,113.11 L471.27,115.45 L472.21,117.81 L473.14,120.20 L474.08,122.60 L475.02,125.02 L475.96,127.46 L476.90,129.92 L477.84,132.38 L478.78,134.87 L479.72,137.36 L480.66,139.87 L481.60,142.39 L482.54,144.92 L483.48,147.46 L484.42,150.01 L485.36,152.57 L486.30,155.13 L487.24,157.71 L488.18,160.29 L489.12,162.88 L490.06,165.47 L491.00,168.07 L491.94,170.68 L492.88,173.29 L493.81,175.91 L494.75,178.53 L495.69,181.15 L496.63,183.78 L497.57,186.41 L498.51,189.05 L499.45,191.69 L500.39,194.33 L501.33,196.98 L502.27,199.63 L503.21,202.28 L504.15,204.93 L505.09,207.59 L506.03,210.25 L506.97,212.91 L507.91,215.57 L508.85,218.23 L509.79,220.89 L510.73,223.56 L511.67,226.23 L512.61,228.90 L513.55,231.57 L514.49,234.24 L515.42,236.91 L516.36,239.59 L517.30,242.26 L518.24,244.94 L519.18,247.61 L520.12,250.29 L521.06,252.97 L522.00,255.65 L522.94,258.33 L523.88,261.01 L524.82,263.69 L525.76,266.37 L526.70,269.05 L527.64,271.73 L528.58,274.42 L529.52,277.10 L530.46,279.78 L531.40,282.46 L532.34,285.15 L533.28,287.83 L534.22,290.52 L535.16,293.20 L536.09,295.89 L537.03,298.57 L537.97,301.26 L538.91,303.94 L539.85,306.63 L540.79,309.32 L541.73,312.00" fill="none" stroke="#ff0000" stroke-width="2.5" stroke-dasharray="2.4 3.5" stroke-linejoin="round"/>
<path d="M441.20,65.60 L442.13,65.62 L443.06,65.69 L443.99,65.79 L444.92,65.94 L445.85,66.12 L446.79,66.34 L447.72,66.59 L448.65,66.88 L449.58,67.21 L450.51,67.57 L451.44,67.95 L452.37,68.37 L453.30,68.82 L454.23,69.30 L455.16,69.80 L456.09,70.33 L457.03,70.88 L457.96,71.46 L458.89,72.07 L459.82,72.70 L460.75,73.35 L461.68,74.02 L462.61,74.71 L463.54,75.42 L464.47,76.16 L465.40,76.91 L466.33,77.68 L467.27,78.47 L468.20,79.27 L469.13,80.09 L470.06,80.93 L470.99,81.78 L471.92,82.65 L472.85,83.53 L473.78,84.43 L474.71,85.34 L475.64,86.26 L476.57,87.20 L477.51,88.15 L478.44,89.11 L479.37,90.08 L480.30,91.06 L481.23,92.06 L482.16,93.06 L483.09,94.08 L484.02,95.10 L484.95,96.13 L485.88,97.18 L486.81,98.23 L487.75,99.29 L488.68,100.35 L489.61,101.43 L490.54,102.51 L491.47,103.60 L492.40,104.70 L493.33,105.81 L494.26,106.92 L495.19,108.04 L496.12,109.16 L497.05,110.29 L497.99,111.43 L498.92,112.57 L499.85,113.72 L500.78,114.87 L501.71,116.03 L502.64,117.20 L503.57,118.36 L504.50,119.54 L505.43,120.71 L506.36,121.90 L507.30,123.08 L508.23,124.27 L509.16,125.47 L510.09,126.66 L511.02,127.87 L511.95,129.07 L512.88,130.28 L513.81,131.49 L514.74,132.71 L515.67,133.92 L516.60,135.14 L517.54,136.37 L518.47,137.60 L519.40,138.83 L520.33,140.06 L521.26,141.29 L522.19,142.53 L523.12,143.77 L524.05,145.01 L524.98,146.26 L525.91,147.50 L526.84,148.75 L527.78,150.00 L528.71,151.25 L529.64,152.51 L530.57,153.76 L531.50,155.02 L532.43,156.28 L533.36,157.54 L534.29,158.80 L535.22,160.07 L536.15,161.33 L537.08,162.60 L538.02,163.87 L538.95,165.14 L539.88,166.41 L540.81,167.68 L541.74,168.96 L542.67,170.23 L543.60,171.51 L544.53,172.79 L545.46,174.07 L546.39,175.35 L547.32,176.63 L548.26,177.91 L549.19,179.19 L550.12,180.47 L551.05,181.76 L551.98,183.04 L552.91,184.33 L553.84,185.61 L554.77,186.90 L555.70,188.19 L556.63,189.48 L557.56,190.77 L558.50,192.06 L559.43,193.35 L560.36,194.64 L561.29,195.93 L562.22,197.22 L563.15,198.52 L564.08,199.81 L565.01,201.10 L565.94,202.40 L566.87,203.69 L567.80,204.99 L568.74,206.29 L569.67,207.58 L570.60,208.88 L571.53,210.18 L572.46,211.48 L573.39,212.77 L574.32,214.07 L575.25,215.37 L576.18,216.67 L577.11,217.97 L578.04,219.27 L578.98,220.57 L579.91,221.87 L580.84,223.17 L581.77,224.47 L582.70,225.78 L583.63,227.08 L584.56,228.38 L585.49,229.68 L586.42,230.98 L587.35,232.29 L588.28,233.59 L589.22,234.89 L590.15,236.20 L591.08,237.50 L592.01,238.80 L592.94,240.11 L593.87,241.41 L594.80,242.72 L595.73,244.02 L596.66,245.33 L597.59,246.63 L598.52,247.94 L599.46,249.24 L600.39,250.55 L601.32,251.85 L602.25,253.16 L603.18,254.46 L604.11,255.77 L605.04,257.08 L605.97,258.38 L606.90,259.69 L607.83,261.00 L608.76,262.30 L609.70,263.61 L610.63,264.92 L611.56,266.22 L612.49,267.53 L613.42,268.84 L614.35,270.14 L615.28,271.45 L616.21,272.76 L617.14,274.07 L618.07,275.37 L619.01,276.68 L619.94,277.99 L620.87,279.30 L621.80,280.60 L622.73,281.91 L623.66,283.22 L624.59,284.53 L625.52,285.84 L626.45,287.14 L627.38,288.45 L628.31,289.76 L629.25,291.07 L630.18,292.38 L631.11,293.68 L632.04,294.99 L632.97,296.30 L633.90,297.61 L634.83,298.92 L635.76,300.23 L636.69,301.54 L637.62,302.84 L638.55,304.15 L639.49,305.46 L640.42,306.77 L641.35,308.08 L642.28,309.39 L643.21,310.70 L644.14,312.01" fill="none" stroke="#ff0000" stroke-width="2.5" stroke-linejoin="round"/>
<path d="M441.20,65.60 L442.13,65.61 L443.06,65.64 L443.98,65.69 L444.91,65.76 L445.84,65.86 L446.77,65.97 L447.69,66.10 L448.62,66.24 L449.55,66.41 L450.48,66.59 L451.40,66.80 L452.33,67.02 L453.26,67.25 L454.19,67.50 L455.11,67.77 L456.04,68.06 L456.97,68.36 L457.90,68.68 L458.82,69.01 L459.75,69.36 L460.68,69.72 L461.61,70.10 L462.53,70.49 L463.46,70.89 L464.39,71.31 L465.32,71.74 L466.25,72.19 L467.17,72.64 L468.10,73.12 L469.03,73.60 L469.96,74.10 L470.88,74.60 L471.81,75.12 L472.74,75.66 L473.67,76.20 L474.59,76.75 L475.52,77.32 L476.45,77.90 L477.38,78.48 L478.30,79.08 L479.23,79.69 L480.16,80.31 L481.09,80.93 L482.01,81.57 L482.94,82.22 L483.87,82.88 L484.80,83.54 L485.72,84.22 L486.65,84.90 L487.58,85.60 L488.51,86.30 L489.44,87.01 L490.36,87.73 L491.29,88.45 L492.22,89.19 L493.15,89.93 L494.07,90.68 L495.00,91.44 L495.93,92.21 L496.86,92.98 L497.78,93.76 L498.71,94.55 L499.64,95.34 L500.57,96.14 L501.49,96.95 L502.42,97.77 L503.35,98.59 L504.28,99.41 L505.20,100.25 L506.13,101.09 L507.06,101.93 L507.99,102.79 L508.91,103.64 L509.84,104.51 L510.77,105.38 L511.70,106.25 L512.63,107.13 L513.55,108.02 L514.48,108.91 L515.41,109.80 L516.34,110.70 L517.26,111.61 L518.19,112.52 L519.12,113.43 L520.05,114.36 L520.97,115.28 L521.90,116.21 L522.83,117.14 L523.76,118.08 L524.68,119.02 L525.61,119.97 L526.54,120.92 L527.47,121.88 L528.39,122.84 L529.32,123.80 L530.25,124.77 L531.18,125.74 L532.10,126.71 L533.03,127.69 L533.96,128.67 L534.89,129.66 L535.82,130.64 L536.74,131.64 L537.67,132.63 L538.60,133.63 L539.53,134.63 L540.45,135.64 L541.38,136.65 L542.31,137.66 L543.24,138.67 L544.16,139.69 L545.09,140.71 L546.02,141.73 L546.95,142.76 L547.87,143.79 L548.80,144.82 L549.73,145.85 L550.66,146.89 L551.58,147.93 L552.51,148.97 L553.44,150.02 L554.37,151.06 L555.29,152.11 L556.22,153.16 L557.15,154.22 L558.08,155.27 L559.01,156.33 L559.93,157.39 L560.86,158.46 L561.79,159.52 L562.72,160.59 L563.64,161.66 L564.57,162.73 L565.50,163.80 L566.43,164.87 L567.35,165.95 L568.28,167.03 L569.21,168.11 L570.14,169.19 L571.06,170.28 L571.99,171.36 L572.92,172.45 L573.85,173.54 L574.77,174.63 L575.70,175.72 L576.63,176.81 L577.56,177.91 L578.48,179.01 L579.41,180.11 L580.34,181.21 L581.27,182.31 L582.20,183.41 L583.12,184.51 L584.05,185.62 L584.98,186.73 L585.91,187.84 L586.83,188.95 L587.76,190.06 L588.69,191.17 L589.62,192.28 L590.54,193.40 L591.47,194.51 L592.40,195.63 L593.33,196.75 L594.25,197.87 L595.18,198.99 L596.11,200.11 L597.04,201.23 L597.96,202.35 L598.89,203.48 L599.82,204.60 L600.75,205.73 L601.67,206.86 L602.60,207.99 L603.53,209.12 L604.46,210.25 L605.39,211.38 L606.31,212.51 L607.24,213.64 L608.17,214.78 L609.10,215.91 L610.02,217.05 L610.95,218.19 L611.88,219.32 L612.81,220.46 L613.73,221.60 L614.66,222.74 L615.59,223.88 L616.52,225.02 L617.44,226.16 L618.37,227.31 L619.30,228.45 L620.23,229.59 L621.15,230.74 L622.08,231.88 L623.01,233.03 L623.94,234.18 L624.86,235.32 L625.79,236.47 L626.72,237.62 L627.65,238.77 L628.58,239.92 L629.50,241.07 L630.43,242.22 L631.36,243.37 L632.29,244.52 L633.21,245.67 L634.14,246.83 L635.07,247.98 L636.00,249.14 L636.92,250.29 L637.85,251.44 L638.78,252.60 L639.71,253.76 L640.63,254.91 L641.56,256.07 L642.49,257.23 L643.42,258.38 L644.34,259.54 L645.27,260.70 L646.20,261.86 L647.13,263.02 L648.05,264.18 L648.98,265.34 L649.91,266.50 L650.84,267.66 L651.77,268.82 L652.69,269.98 L653.62,271.15 L654.55,272.31 L655.48,273.47 L656.40,274.63 L657.33,275.80 L658.26,276.96 L659.19,278.13 L660.11,279.29 L661.04,280.45 L661.97,281.62 L662.90,282.79 L663.82,283.95 L664.75,285.12 L665.68,286.28 L666.61,287.45 L667.53,288.62 L668.46,289.78 L669.39,290.95 L670.32,292.12 L671.24,293.29 L672.17,294.45 L673.10,295.62 L674.03,296.79 L674.96,297.96 L675.88,299.13 L676.81,300.30 L677.74,301.47 L678.67,302.64 L679.59,303.81 L680.52,304.98 L681.45,306.15 L682.38,307.32 L683.30,308.49 L684.23,309.66 L685.16,310.83 L686.09,312.00" fill="none" stroke="#ff0000" stroke-width="2.5" stroke-dasharray="14.2 9.5" stroke-linejoin="round"/>
<path d="M441.20,65.60 L442.13,65.61 L443.05,65.63 L443.98,65.67 L444.91,65.73 L445.83,65.80 L446.76,65.89 L447.69,65.99 L448.61,66.11 L449.54,66.25 L450.46,66.39 L451.39,66.55 L452.32,66.73 L453.24,66.92 L454.17,67.12 L455.10,67.34 L456.02,67.57 L456.95,67.81 L457.88,68.07 L458.80,68.34 L459.73,68.62 L460.66,68.91 L461.58,69.21 L462.51,69.53 L463.43,69.86 L464.36,70.20 L465.29,70.55 L466.21,70.91 L467.14,71.29 L468.07,71.67 L468.99,72.07 L469.92,72.47 L470.85,72.89 L471.77,73.31 L472.70,73.75 L473.63,74.19 L474.55,74.65 L475.48,75.11 L476.41,75.59 L477.33,76.07 L478.26,76.56 L479.18,77.07 L480.11,77.58 L481.04,78.09 L481.96,78.62 L482.89,79.16 L483.82,79.70 L484.74,80.25 L485.67,80.82 L486.60,81.38 L487.52,81.96 L488.45,82.54 L489.38,83.14 L490.30,83.73 L491.23,84.34 L492.15,84.95 L493.08,85.58 L494.01,86.20 L494.93,86.84 L495.86,87.48 L496.79,88.13 L497.71,88.78 L498.64,89.44 L499.57,90.11 L500.49,90.78 L501.42,91.46 L502.35,92.15 L503.27,92.84 L504.20,93.54 L505.13,94.24 L506.05,94.95 L506.98,95.67 L507.90,96.39 L508.83,97.11 L509.76,97.84 L510.68,98.58 L511.61,99.32 L512.54,100.07 L513.46,100.82 L514.39,101.58 L515.32,102.34 L516.24,103.11 L517.17,103.88 L518.10,104.65 L519.02,105.43 L519.95,106.22 L520.87,107.01 L521.80,107.80 L522.73,108.60 L523.65,109.40 L524.58,110.21 L525.51,111.02 L526.43,111.84 L527.36,112.66 L528.29,113.48 L529.21,114.31 L530.14,115.14 L531.07,115.97 L531.99,116.81 L532.92,117.65 L533.85,118.50 L534.77,119.35 L535.70,120.20 L536.62,121.05 L537.55,121.91 L538.48,122.78 L539.40,123.64 L540.33,124.51 L541.26,125.38 L542.18,126.26 L543.11,127.14 L544.04,128.02 L544.96,128.90 L545.89,129.79 L546.82,130.68 L547.74,131.57 L548.67,132.47 L549.59,133.37 L550.52,134.27 L551.45,135.17 L552.37,136.08 L553.30,136.99 L554.23,137.90 L555.15,138.81 L556.08,139.73 L557.01,140.65 L557.93,141.57 L558.86,142.50 L559.79,143.42 L560.71,144.35 L561.64,145.28 L562.57,146.21 L563.49,147.15 L564.42,148.09 L565.34,149.03 L566.27,149.97 L567.20,150.91 L568.12,151.86 L569.05,152.80 L569.98,153.75 L570.90,154.71 L571.83,155.66 L572.76,156.61 L573.68,157.57 L574.61,158.53 L575.54,159.49 L576.46,160.45 L577.39,161.42 L578.31,162.38 L579.24,163.35 L580.17,164.32 L581.09,165.29 L582.02,166.26 L582.95,167.24 L583.87,168.21 L584.80,169.19 L585.73,170.17 L586.65,171.15 L587.58,172.13 L588.51,173.11 L589.43,174.10 L590.36,175.08 L591.29,176.07 L592.21,177.06 L593.14,178.05 L594.06,179.04 L594.99,180.03 L595.92,181.03 L596.84,182.02 L597.77,183.02 L598.70,184.02 L599.62,185.01 L600.55,186.01 L601.48,187.02 L602.40,188.02 L603.33,189.02 L604.26,190.03 L605.18,191.03 L606.11,192.04 L607.03,193.04 L607.96,194.05 L608.89,195.06 L609.81,196.07 L610.74,197.08 L611.67,198.10 L612.59,199.11 L613.52,200.13 L614.45,201.14 L615.37,202.16 L616.30,203.17 L617.23,204.19 L618.15,205.21 L619.08,206.23 L620.01,207.25 L620.93,208.27 L621.86,209.30 L622.78,210.32 L623.71,211.34 L624.64,212.37 L625.56,213.39 L626.49,214.42 L627.42,215.45 L628.34,216.47 L629.27,217.50 L630.20,218.53 L631.12,219.56 L632.05,220.59 L632.98,221.62 L633.90,222.66 L634.83,223.69 L635.75,224.72 L636.68,225.75 L637.61,226.79 L638.53,227.82 L639.46,228.86 L640.39,229.90 L641.31,230.93 L642.24,231.97 L643.17,233.01 L644.09,234.05 L645.02,235.09 L645.95,236.13 L646.87,237.17 L647.80,238.21 L648.73,239.25 L649.65,240.29 L650.58,241.33 L651.50,242.38 L652.43,243.42 L653.36,244.46 L654.28,245.51 L655.21,246.55 L656.14,247.60 L657.06,248.64 L657.99,249.69 L658.92,250.74 L659.84,251.78 L660.77,252.83 L661.70,253.88 L662.62,254.93 L663.55,255.98 L664.47,257.03 L665.40,258.08 L666.33,259.12 L667.25,260.18 L668.18,261.23 L669.11,262.28 L670.03,263.33 L670.96,264.38 L671.89,265.43 L672.81,266.48 L673.74,267.54 L674.67,268.59 L675.59,269.64 L676.52,270.70 L677.45,271.75 L678.37,272.81 L679.30,273.86 L680.22,274.92 L681.15,275.97 L682.08,277.03 L683.00,278.08 L683.93,279.14 L684.86,280.20 L685.78,281.25 L686.71,282.31 L687.64,283.37 L688.56,284.43 L689.49,285.48 L690.42,286.54 L691.34,287.60 L692.27,288.66 L693.19,289.72 L694.12,290.78 L695.05,291.84 L695.97,292.90 L696.90,293.96 L697.83,295.02 L698.75,296.08 L699.68,297.14 L700.61,298.20 L701.53,299.26 L702.46,300.32 L703.39,301.38 L704.31,302.44 L705.24,303.51 L706.17,304.57 L707.09,305.63 L708.02,306.69 L708.94,307.76 L709.87,308.82 L710.80,309.88 L711.72,310.94 L712.65,312.01" fill="none" stroke="#ff0000" stroke-width="2.5" stroke-dasharray="2.4 3.5" stroke-linejoin="round"/>
<rect x="452.9" y="101.3" width="5.8" height="5.8" fill="#c87800" stroke="#ff0000" stroke-width="1.7"/>
<rect x="462.8" y="140.7" width="5.8" height="5.8" fill="#c87800" stroke="#ff0000" stroke-width="1.7"/>
<rect x="472.5" y="180.2" width="5.8" height="5.8" fill="#c87800" stroke="#ff0000" stroke-width="1.7"/>
<rect x="481.7" y="218.1" width="5.8" height="5.8" fill="#c87800" stroke="#ff0000" stroke-width="1.7"/>
<rect x="491.3" y="257.4" width="5.8" height="5.8" fill="#c87800" stroke="#ff0000" stroke-width="1.7"/>
<rect x="497.9" y="296.8" width="5.8" height="5.8" fill="#c87800" stroke="#ff0000" stroke-width="1.7"/>
<rect x="453.5" y="109.3" width="5.8" height="5.8" fill="#c87800" stroke="#ff0000" stroke-width="1.7"/>
<rect x="465.1" y="156.0" width="5.8" height="5.8" fill="#c87800" stroke="#ff0000" stroke-width="1.7"/>
<rect x="476.0" y="203.3" width="5.8" height="5.8" fill="#c87800" stroke="#ff0000" stroke-width="1.7"/>
<rect x="487.4" y="250.0" width="5.8" height="5.8" fill="#c87800" stroke="#ff0000" stroke-width="1.7"/>
<rect x="501.9" y="296.8" width="5.8" height="5.8" fill="#c87800" stroke="#ff0000" stroke-width="1.7"/>
<rect x="459.2" y="101.3" width="5.8" height="5.8" fill="#c87800" stroke="#ff0000" stroke-width="1.7"/>
<rect x="473.3" y="140.7" width="5.8" height="5.8" fill="#c87800" stroke="#ff0000" stroke-width="1.7"/>
<rect x="486.2" y="180.2" width="5.8" height="5.8" fill="#c87800" stroke="#ff0000" stroke-width="1.7"/>
<rect x="499.2" y="218.1" width="5.8" height="5.8" fill="#c87800" stroke="#ff0000" stroke-width="1.7"/>
<rect x="512.1" y="257.6" width="5.8" height="5.8" fill="#c87800" stroke="#ff0000" stroke-width="1.7"/>
<rect x="526.1" y="296.8" width="5.8" height="5.8" fill="#c87800" stroke="#ff0000" stroke-width="1.7"/>
<rect x="467.6" y="109.3" width="5.8" height="5.8" fill="#c87800" stroke="#ff0000" stroke-width="1.7"/>
<rect x="485.1" y="156.0" width="5.8" height="5.8" fill="#c87800" stroke="#ff0000" stroke-width="1.7"/>
<rect x="500.9" y="203.3" width="5.8" height="5.8" fill="#c87800" stroke="#ff0000" stroke-width="1.7"/>
<rect x="517.6" y="249.1" width="5.8" height="5.8" fill="#c87800" stroke="#ff0000" stroke-width="1.7"/>
<rect x="534.6" y="297.1" width="5.8" height="5.8" fill="#c87800" stroke="#ff0000" stroke-width="1.7"/>
<rect x="489.3" y="101.3" width="5.8" height="5.8" fill="#c87800" stroke="#ff0000" stroke-width="1.7"/>
<rect x="520.3" y="140.8" width="5.8" height="5.8" fill="#c87800" stroke="#ff0000" stroke-width="1.7"/>
<rect x="548.7" y="179.3" width="5.8" height="5.8" fill="#c87800" stroke="#ff0000" stroke-width="1.7"/>
<rect x="576.6" y="218.2" width="5.8" height="5.8" fill="#c87800" stroke="#ff0000" stroke-width="1.7"/>
<rect x="604.6" y="257.7" width="5.8" height="5.8" fill="#c87800" stroke="#ff0000" stroke-width="1.7"/>
<rect x="632.6" y="296.9" width="5.8" height="5.8" fill="#c87800" stroke="#ff0000" stroke-width="1.7"/>
<rect x="508.7" y="101.3" width="5.8" height="5.8" fill="#c87800" stroke="#ff0000" stroke-width="1.7"/>
<rect x="545.1" y="140.8" width="5.8" height="5.8" fill="#c87800" stroke="#ff0000" stroke-width="1.7"/>
<rect x="577.1" y="179.3" width="5.8" height="5.8" fill="#c87800" stroke="#ff0000" stroke-width="1.7"/>
<rect x="610.3" y="218.2" width="5.8" height="5.8" fill="#c87800" stroke="#ff0000" stroke-width="1.7"/>
<rect x="641.8" y="257.7" width="5.8" height="5.8" fill="#c87800" stroke="#ff0000" stroke-width="1.7"/>
<rect x="675.1" y="296.9" width="5.8" height="5.8" fill="#c87800" stroke="#ff0000" stroke-width="1.7"/>
<rect x="518.2" y="101.3" width="5.8" height="5.8" fill="#c87800" stroke="#ff0000" stroke-width="1.7"/>
<rect x="557.7" y="140.8" width="5.8" height="5.8" fill="#c87800" stroke="#ff0000" stroke-width="1.7"/>
<rect x="592.8" y="179.3" width="5.8" height="5.8" fill="#c87800" stroke="#ff0000" stroke-width="1.7"/>
<rect x="628.1" y="218.2" width="5.8" height="5.8" fill="#c87800" stroke="#ff0000" stroke-width="1.7"/>
<rect x="663.4" y="257.4" width="5.8" height="5.8" fill="#c87800" stroke="#ff0000" stroke-width="1.7"/>
<rect x="700.3" y="297.1" width="5.8" height="5.8" fill="#c87800" stroke="#ff0000" stroke-width="1.7"/>
</g>
<rect x="438.1" y="62.3" width="5.8" height="5.8" fill="#c87800" stroke="#ff0000" stroke-width="1.7"/>
<text x="7" y="21.3" font-size="17" text-anchor="start" textLength="21.6" lengthAdjust="spacingAndGlyphs" >(<tspan font-style="italic">a</tspan>)</text>
<text x="383.8" y="21.3" font-size="17" text-anchor="start" textLength="21.6" lengthAdjust="spacingAndGlyphs" >(<tspan font-style="italic">b</tspan>)</text>
<text x="120.6" y="18.3" font-size="17" text-anchor="start" textLength="135.2" lengthAdjust="spacingAndGlyphs" >Hubbard <tspan font-style="italic">et al.</tspan> [<tspan fill="#0000ff">30</tspan>]</text>
<text x="121.4" y="34.9" font-size="17" text-anchor="start" textLength="202.2" lengthAdjust="spacingAndGlyphs" >present fully transient model</text>
<text x="120.1" y="52.6" font-size="17" text-anchor="start" textLength="235.0" lengthAdjust="spacingAndGlyphs" >present model with QS gas phase</text>
<circle cx="106.6" cy="13.2" r="3.6" fill="#c8c8c8" stroke="#0000ff" stroke-width="1.8"/>
<rect x="103.0" y="26.8" width="7.2" height="7.2" fill="#c87800" stroke="#ff0000" stroke-width="1.7"/>
<path d="M106.6,41.4 L110.4,46.6 L106.6,51.8 L102.8,46.6Z" fill="#6aa632" stroke="#2c5a06" stroke-width="1.5"/>
<line x1="484" y1="9.1" x2="543.4" y2="9.1" stroke="#000" stroke-width="2"/>
<line x1="484" y1="28.5" x2="543.4" y2="28.5" stroke="#000" stroke-width="2" stroke-dasharray="15 9.5"/>
<line x1="484" y1="47.9" x2="543.4" y2="47.9" stroke="#000" stroke-width="1.6" stroke-dasharray="1.6 4.3"/>
<text x="552.6" y="14.1" font-size="17" text-anchor="start" ><tspan font-style="italic">P</tspan></text>
<text x="563.9" y="19.7" font-size="14.5" text-anchor="start" textLength="11.6" lengthAdjust="spacingAndGlyphs" >∞</text>
<text x="580.2" y="14.1" font-size="17" text-anchor="start" textLength="51.6" lengthAdjust="spacingAndGlyphs" >= 1 atm</text>
<text x="552.6" y="33.5" font-size="17" text-anchor="start" ><tspan font-style="italic">P</tspan></text>
<text x="563.9" y="39.1" font-size="14.5" text-anchor="start" textLength="11.6" lengthAdjust="spacingAndGlyphs" >∞</text>
<text x="580.2" y="33.5" font-size="17" text-anchor="start" textLength="51.6" lengthAdjust="spacingAndGlyphs" >= 5 atm</text>
<text x="552.6" y="52.9" font-size="17" text-anchor="start" ><tspan font-style="italic">P</tspan></text>
<text x="563.9" y="58.5" font-size="14.5" text-anchor="start" textLength="11.6" lengthAdjust="spacingAndGlyphs" >∞</text>
<text x="580.2" y="52.9" font-size="17" text-anchor="start" textLength="59.5" lengthAdjust="spacingAndGlyphs" >= 10 atm</text>
<text x="54.9" y="70.5" font-size="17.3" text-anchor="end" >1.0</text>
<text x="432.9" y="70.5" font-size="17.3" text-anchor="end" >1.0</text>
<text x="54.9" y="119.8" font-size="17.3" text-anchor="end" >0.8</text>
<text x="432.9" y="119.8" font-size="17.3" text-anchor="end" >0.8</text>
<text x="54.9" y="169.1" font-size="17.3" text-anchor="end" >0.6</text>
<text x="432.9" y="169.1" font-size="17.3" text-anchor="end" >0.6</text>
<text x="54.9" y="218.3" font-size="17.3" text-anchor="end" >0.4</text>
<text x="432.9" y="218.3" font-size="17.3" text-anchor="end" >0.4</text>
<text x="54.9" y="267.6" font-size="17.3" text-anchor="end" >0.2</text>
<text x="432.9" y="267.6" font-size="17.3" text-anchor="end" >0.2</text>
<text x="49.6" y="331.4" font-size="17.3" text-anchor="middle" >0</text>
<text x="428.3" y="331.4" font-size="17.3" text-anchor="middle" >0</text>
<text x="99.6" y="331.4" font-size="17.3" text-anchor="middle" >4</text>
<text x="136.5" y="331.4" font-size="17.3" text-anchor="middle" >8</text>
<text x="173.5" y="331.4" font-size="17.3" text-anchor="middle" >12</text>
<text x="210.4" y="331.4" font-size="17.3" text-anchor="middle" >16</text>
<text x="247.4" y="331.4" font-size="17.3" text-anchor="middle" >20</text>
<text x="284.4" y="331.4" font-size="17.3" text-anchor="middle" >24</text>
<text x="321.3" y="331.4" font-size="17.3" text-anchor="middle" >28</text>
<text x="358.3" y="331.4" font-size="17.3" text-anchor="middle" >32</text>
<text x="515.0" y="331.4" font-size="17.3" text-anchor="middle" >10</text>
<text x="588.9" y="331.4" font-size="17.3" text-anchor="middle" >20</text>
<text x="662.8" y="331.4" font-size="17.3" text-anchor="middle" >30</text>
<text x="736.6" y="331.4" font-size="17.3" text-anchor="middle" >40</text>
<text x="122.6" y="360.7" font-size="16.5" font-style="italic" textLength="17.2" lengthAdjust="spacingAndGlyphs">t/a</text>
<text x="139.7" y="355.1" font-size="12.3">2</text>
<text x="140.9" y="366.0" font-size="11.5" font-style="italic">i</text>
<text x="152.2" y="360.7" font-size="16.5" textLength="15.2" lengthAdjust="spacingAndGlyphs">(=</text>
<text x="167.6" y="360.7" font-size="16.5" font-style="italic">t&#x303;</text>
<text x="173.2" y="360.7" font-size="16.5" font-style="italic">ρ</text>
<text x="183.3" y="367.9" font-size="11.5" textLength="12.4" lengthAdjust="spacingAndGlyphs">∞</text>
<text x="194.8" y="360.7" font-size="16.5">/</text>
<text x="199.6" y="360.7" font-size="16.5" font-style="italic">Γ</text>
<text x="210.5" y="367.9" font-size="11.5" textLength="12.0" lengthAdjust="spacingAndGlyphs">∞</text>
<text x="222.3" y="360.7" font-size="16.5">),</text>
<text x="237.2" y="360.7" font-size="16.5" textLength="41.6" lengthAdjust="spacingAndGlyphs">(s mm</text>
<text x="279.0" y="355.6" font-size="11.5" textLength="13.8" lengthAdjust="spacingAndGlyphs">−2</text>
<text x="292.9" y="360.7" font-size="16.5">)</text>
<text x="501.0" y="360.7" font-size="16.5" font-style="italic" textLength="17.2" lengthAdjust="spacingAndGlyphs">t/a</text>
<text x="518.1" y="355.1" font-size="12.3">2</text>
<text x="519.3" y="366.0" font-size="11.5" font-style="italic">i</text>
<text x="530.6" y="360.7" font-size="16.5" textLength="15.2" lengthAdjust="spacingAndGlyphs">(=</text>
<text x="546.0" y="360.7" font-size="16.5" font-style="italic">t&#x303;</text>
<text x="551.6" y="360.7" font-size="16.5" font-style="italic">ρ</text>
<text x="561.7" y="367.9" font-size="11.5" textLength="12.4" lengthAdjust="spacingAndGlyphs">∞</text>
<text x="573.2" y="360.7" font-size="16.5">/</text>
<text x="578.0" y="360.7" font-size="16.5" font-style="italic">Γ</text>
<text x="588.9" y="367.9" font-size="11.5" textLength="12.0" lengthAdjust="spacingAndGlyphs">∞</text>
<text x="600.7" y="360.7" font-size="16.5">),</text>
<text x="615.6" y="360.7" font-size="16.5" textLength="41.6" lengthAdjust="spacingAndGlyphs">(s mm</text>
<text x="657.4" y="355.6" font-size="11.5" textLength="13.8" lengthAdjust="spacingAndGlyphs">−2</text>
<text x="671.3" y="360.7" font-size="16.5">)</text>
<g transform="translate(19.2,0) rotate(-90)">
<text x="-248.3" y="0.0" font-size="16.3">(</text>
<text x="-240.6" y="0.0" font-size="16.3" font-style="italic" textLength="24.2" lengthAdjust="spacingAndGlyphs">a/a</text>
<text x="-216.2" y="4.2" font-size="11.5" font-style="italic">i</text>
<text x="-213.4" y="0.0" font-size="16.3">)</text>
<text x="-205.9" y="-6.0" font-size="11.5">2</text>
<text x="-196.6" y="0.0" font-size="16.3">(</text>
<text x="-191.6" y="1.3" font-size="16.3" textLength="8.4" lengthAdjust="spacingAndGlyphs">=</text>
<text x="-183.0" y="0.0" font-size="16.3" font-style="italic">ã</text>
<text x="-172.2" y="-6.0" font-size="11.5">2</text>
<text x="-164.6" y="0.0" font-size="16.3">),</text>
<text x="-151.1" y="0.0" font-size="16.3" textLength="17.6" lengthAdjust="spacingAndGlyphs">(−)</text>
</g>
<g transform="translate(396.9,0) rotate(-90)">
<text x="-248.3" y="0.0" font-size="16.3">(</text>
<text x="-240.6" y="0.0" font-size="16.3" font-style="italic" textLength="24.2" lengthAdjust="spacingAndGlyphs">a/a</text>
<text x="-216.2" y="4.2" font-size="11.5" font-style="italic">i</text>
<text x="-213.4" y="0.0" font-size="16.3">)</text>
<text x="-205.9" y="-6.0" font-size="11.5">2</text>
<text x="-196.6" y="0.0" font-size="16.3">(</text>
<text x="-191.6" y="1.3" font-size="16.3" textLength="8.4" lengthAdjust="spacingAndGlyphs">=</text>
<text x="-183.0" y="0.0" font-size="16.3" font-style="italic">ã</text>
<text x="-172.2" y="-6.0" font-size="11.5">2</text>
<text x="-164.6" y="0.0" font-size="16.3">),</text>
<text x="-151.1" y="0.0" font-size="16.3" textLength="17.6" lengthAdjust="spacingAndGlyphs">(−)</text>
</g>
<text x="274.4" y="169.5" font-size="12" text-anchor="start" ><tspan font-style="italic">T</tspan></text><text x="280.7" y="174.9" font-size="11.5" text-anchor="start" textLength="9.0" lengthAdjust="spacingAndGlyphs" >∞</text><text x="292.4" y="169.5" font-size="12" text-anchor="start" textLength="42.8" lengthAdjust="spacingAndGlyphs" >= 600 K</text>
<text x="165.3" y="244.9" font-size="12" text-anchor="start" ><tspan font-style="italic">T</tspan></text><text x="171.60000000000002" y="250.3" font-size="11.5" text-anchor="start" textLength="9.0" lengthAdjust="spacingAndGlyphs" >∞</text><text x="183.3" y="244.9" font-size="12" text-anchor="start" textLength="48.0" lengthAdjust="spacingAndGlyphs" >= 1200 K</text>
<text x="71.1" y="287.4" font-size="12" text-anchor="start" ><tspan font-style="italic">T</tspan></text><text x="77.39999999999999" y="292.79999999999995" font-size="11.5" text-anchor="start" textLength="9.0" lengthAdjust="spacingAndGlyphs" >∞</text><text x="89.1" y="289.59999999999997" font-size="12" text-anchor="start" textLength="7.300000000000001" lengthAdjust="spacingAndGlyphs" >=</text>
<text x="71.0" y="302.6" font-size="12" text-anchor="start" textLength="36.8" lengthAdjust="spacingAndGlyphs" >2000 K</text>
<path d="M213.7,197.4 L297.9,177.6 L264.3,208.2 M297.9,177.6 L292.4,214.5" stroke="#000" stroke-width="1.6" fill="none" stroke-linejoin="miter"/>
<path d="M167.6,262.8 L183.9,253.2 L162.1,275.3" stroke="#000" stroke-width="1.6" fill="none" stroke-linejoin="miter"/>
<path d="M131.1,267.6 L96.8,280 L130.1,276.5" stroke="#000" stroke-width="1.6" fill="none" stroke-linejoin="miter"/>
<text x="445.8" y="251.4" font-size="13.3" text-anchor="start" textLength="35.0" lengthAdjust="spacingAndGlyphs" >−5.0%</text>
<text x="442.7" y="289.7" font-size="13.3" text-anchor="start" textLength="35.6" lengthAdjust="spacingAndGlyphs" >−1.8%</text>
<text x="523.3" y="229.5" font-size="13.3" text-anchor="start" textLength="36.2" lengthAdjust="spacingAndGlyphs" >−5.6%</text>
<text x="542.5" y="266.3" font-size="13.3" text-anchor="start" textLength="35.8" lengthAdjust="spacingAndGlyphs" >−2.0%</text>
<text x="565.8" y="284.2" font-size="13.3" text-anchor="start" textLength="36.0" lengthAdjust="spacingAndGlyphs" >−2.1%</text>
<text x="655.3" y="207.6" font-size="13.3" text-anchor="start" textLength="35.0" lengthAdjust="spacingAndGlyphs" >−3.9%</text>
<text x="682.9" y="230" font-size="13.3" text-anchor="start" textLength="35.5" lengthAdjust="spacingAndGlyphs" >−5.0%</text>
<path d="M473.7,256 L493.7,270.8 M480,285.5 L502.1,289.3 M531.25,233.75 L517,245 M546.25,270 L525.5,291.25 M604.2,280.5 L625.8,286.2 M666.3,212.9 L636.3,248.8 M692.6,232.6 L673.7,269.5" stroke="#000" stroke-width="1.6" fill="none" stroke-linejoin="miter"/>
</svg>
</body></html>
